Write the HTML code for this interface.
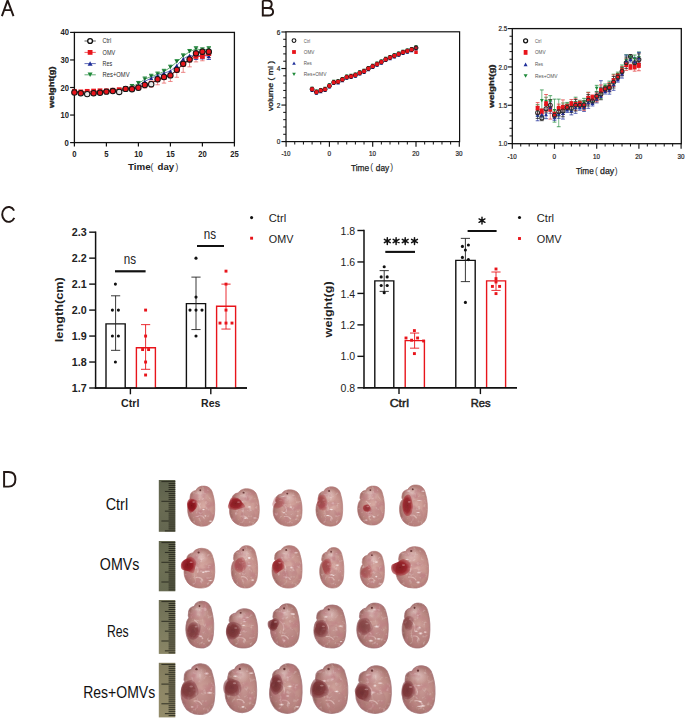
<!DOCTYPE html>
<html><head><meta charset="utf-8"><style>
html,body{margin:0;padding:0;background:#fff;}
body{width:685px;height:719px;overflow:hidden;}
svg{display:block;font-family:"Liberation Sans", sans-serif;}
</style></head><body>
<svg width="685" height="719" viewBox="0 0 685 719" font-family="&quot;Liberation Sans&quot;, sans-serif">
<rect width="685" height="719" fill="#fff"/>
<defs>
<radialGradient id="gA" cx="0.6" cy="0.52" r="0.62">
<stop offset="0" stop-color="#d8aca5"/><stop offset="0.5" stop-color="#c7958e"/><stop offset="0.82" stop-color="#af7b75"/><stop offset="1" stop-color="#94605c"/></radialGradient>
<radialGradient id="gB" cx="0.6" cy="0.52" r="0.62">
<stop offset="0" stop-color="#cfa39c"/><stop offset="0.5" stop-color="#bd8c86"/><stop offset="0.82" stop-color="#a5726d"/><stop offset="1" stop-color="#8a5855"/></radialGradient>
<radialGradient id="lvA" cx="0.5" cy="0.5" r="0.5">
<stop offset="0" stop-color="#a11e2a"/><stop offset="0.55" stop-color="#ad2e37" stop-opacity="0.9"/><stop offset="1" stop-color="#c06a6c" stop-opacity="0"/></radialGradient>
<radialGradient id="lvB" cx="0.5" cy="0.5" r="0.5">
<stop offset="0" stop-color="#6e2226"/><stop offset="0.55" stop-color="#84343a" stop-opacity="0.85"/><stop offset="1" stop-color="#a86a6c" stop-opacity="0"/></radialGradient>
<radialGradient id="hl" cx="0.5" cy="0.5" r="0.5">
<stop offset="0" stop-color="#fbeeee" stop-opacity="0.9"/><stop offset="1" stop-color="#fbeeee" stop-opacity="0"/></radialGradient>
<filter id="tex0" x="0" y="0" width="1" height="1" filterUnits="objectBoundingBox">
<feTurbulence type="fractalNoise" baseFrequency="0.3" numOctaves="2" seed="5" result="n"/>
<feColorMatrix in="n" type="matrix" values="0 0 0 0 1  0 0 0 0 0.94  0 0 0 0 0.93  3.4 0 0 0 -2.0" result="w"/>
<feComposite in="w" in2="SourceAlpha" operator="in"/>
</filter>
<filter id="dk0" x="0" y="0" width="1" height="1" filterUnits="objectBoundingBox">
<feTurbulence type="fractalNoise" baseFrequency="0.12" numOctaves="2" seed="8" result="n"/>
<feColorMatrix in="n" type="matrix" values="0 0 0 0 0.5  0 0 0 0 0.2  0 0 0 0 0.22  0 0 3.2 0 -1.45" result="w"/>
<feComposite in="w" in2="SourceAlpha" operator="in"/>
</filter>
<filter id="tex1" x="0" y="0" width="1" height="1" filterUnits="objectBoundingBox">
<feTurbulence type="fractalNoise" baseFrequency="0.3" numOctaves="2" seed="17" result="n"/>
<feColorMatrix in="n" type="matrix" values="0 0 0 0 1  0 0 0 0 0.94  0 0 0 0 0.93  3.4 0 0 0 -2.0" result="w"/>
<feComposite in="w" in2="SourceAlpha" operator="in"/>
</filter>
<filter id="dk1" x="0" y="0" width="1" height="1" filterUnits="objectBoundingBox">
<feTurbulence type="fractalNoise" baseFrequency="0.12" numOctaves="2" seed="20" result="n"/>
<feColorMatrix in="n" type="matrix" values="0 0 0 0 0.5  0 0 0 0 0.2  0 0 0 0 0.22  0 0 3.2 0 -1.45" result="w"/>
<feComposite in="w" in2="SourceAlpha" operator="in"/>
</filter>
<filter id="tex2" x="0" y="0" width="1" height="1" filterUnits="objectBoundingBox">
<feTurbulence type="fractalNoise" baseFrequency="0.3" numOctaves="2" seed="29" result="n"/>
<feColorMatrix in="n" type="matrix" values="0 0 0 0 1  0 0 0 0 0.94  0 0 0 0 0.93  3.4 0 0 0 -2.0" result="w"/>
<feComposite in="w" in2="SourceAlpha" operator="in"/>
</filter>
<filter id="dk2" x="0" y="0" width="1" height="1" filterUnits="objectBoundingBox">
<feTurbulence type="fractalNoise" baseFrequency="0.12" numOctaves="2" seed="32" result="n"/>
<feColorMatrix in="n" type="matrix" values="0 0 0 0 0.5  0 0 0 0 0.2  0 0 0 0 0.22  0 0 3.2 0 -1.45" result="w"/>
<feComposite in="w" in2="SourceAlpha" operator="in"/>
</filter>
<filter id="tex3" x="0" y="0" width="1" height="1" filterUnits="objectBoundingBox">
<feTurbulence type="fractalNoise" baseFrequency="0.3" numOctaves="2" seed="41" result="n"/>
<feColorMatrix in="n" type="matrix" values="0 0 0 0 1  0 0 0 0 0.94  0 0 0 0 0.93  3.4 0 0 0 -2.0" result="w"/>
<feComposite in="w" in2="SourceAlpha" operator="in"/>
</filter>
<filter id="dk3" x="0" y="0" width="1" height="1" filterUnits="objectBoundingBox">
<feTurbulence type="fractalNoise" baseFrequency="0.12" numOctaves="2" seed="44" result="n"/>
<feColorMatrix in="n" type="matrix" values="0 0 0 0 0.5  0 0 0 0 0.2  0 0 0 0 0.22  0 0 3.2 0 -1.45" result="w"/>
<feComposite in="w" in2="SourceAlpha" operator="in"/>
</filter>
<filter id="blur" x="-0.3" y="-0.3" width="1.6" height="1.6"><feGaussianBlur stdDeviation="0.5"/></filter>
<radialGradient id="lvAs" cx="0.45" cy="0.5" r="0.55"><stop offset="0" stop-color="#7e1018"/><stop offset="0.6" stop-color="#961c24"/><stop offset="1" stop-color="#b0444a" stop-opacity="0.55"/></radialGradient>
<radialGradient id="lvBs" cx="0.45" cy="0.5" r="0.55"><stop offset="0" stop-color="#5e1a1e"/><stop offset="0.6" stop-color="#73282c"/><stop offset="1" stop-color="#93545a" stop-opacity="0.6"/></radialGradient>
<clipPath id="cb"><path d="M4,11 C4,7.5 7,5.5 10,5 C11,2 15,0 19,0.5 C24,1 27,4 28,9 C30,15 30.5,24 29.5,31 C28.5,38 24,42 17,42 C11,42 6,39 4,35 C1.5,31 1,26 1.5,22 C2,18.5 3,16.5 4.5,15 C3.6,14 3.6,12.5 4,11 Z"/></clipPath>
<path id="bodyp" d="M4,11 C4,7.5 7,5.5 10,5 C11,2 15,0 19,0.5 C24,1 27,4 28,9 C30,15 30.5,24 29.5,31 C28.5,38 24,42 17,42 C11,42 6,39 4,35 C1.5,31 1,26 1.5,22 C2,18.5 3,16.5 4.5,15 C3.6,14 3.6,12.5 4,11 Z"/>
<linearGradient id="rg" x1="0" y1="0" x2="0" y2="1">
<stop offset="0" stop-color="#5d614d"/><stop offset="0.4" stop-color="#6b6d53"/><stop offset="0.6" stop-color="#7a7a5a"/><stop offset="1" stop-color="#5c5f4a"/></linearGradient>

</defs>
<g font-family="&quot;Liberation Sans&quot;, sans-serif" font-size="15.6" fill="#111">
<text x="116.9" y="509.8" text-anchor="middle" textLength="22.4" lengthAdjust="spacingAndGlyphs">Ctrl</text>
<text x="119.6" y="570.0" text-anchor="middle" textLength="39.6" lengthAdjust="spacingAndGlyphs">OMVs</text>
<text x="117.8" y="637.3" text-anchor="middle" textLength="21.8" lengthAdjust="spacingAndGlyphs">Res</text>
<text x="119.2" y="697.8" text-anchor="middle" textLength="72.0" lengthAdjust="spacingAndGlyphs">Res+OMVs</text>
</g>
<linearGradient id="rg0" x1="0" y1="0" x2="0" y2="1"><stop offset="0" stop-color="#5c604b"/><stop offset="0.5" stop-color="#6a6c53"/><stop offset="1" stop-color="#646650"/></linearGradient>
<rect x="158.8" y="480.0" width="16.5" height="51.80" fill="url(#rg0)"/>
<path d="M161.40,481.60H175.3M168.60,483.57H175.3M168.60,485.54H175.3M168.60,487.51H175.3M168.60,489.48H175.3M164.90,491.45H175.3M168.60,493.42H175.3M168.60,495.39H175.3M168.60,497.36H175.3M168.60,499.33H175.3M161.40,501.30H175.3M168.60,503.27H175.3M168.60,505.24H175.3M168.60,507.21H175.3M168.60,509.18H175.3M164.90,511.15H175.3M168.60,513.12H175.3M168.60,515.09H175.3M168.60,517.06H175.3M168.60,519.03H175.3M161.40,521.00H175.3M168.60,522.97H175.3M168.60,524.94H175.3M168.60,526.91H175.3M168.60,528.88H175.3M164.90,530.85H175.3" stroke="#2a2a20" stroke-width="0.95" fill="none"/>
<linearGradient id="rg1" x1="0" y1="0" x2="0" y2="1"><stop offset="0" stop-color="#62654d"/><stop offset="0.5" stop-color="#6e7055"/><stop offset="1" stop-color="#676a51"/></linearGradient>
<rect x="158.8" y="541.0" width="16.5" height="50.30" fill="url(#rg1)"/>
<path d="M161.40,542.60H175.3M168.60,544.57H175.3M168.60,546.54H175.3M168.60,548.51H175.3M168.60,550.48H175.3M164.90,552.45H175.3M168.60,554.42H175.3M168.60,556.39H175.3M168.60,558.36H175.3M168.60,560.33H175.3M161.40,562.30H175.3M168.60,564.27H175.3M168.60,566.24H175.3M168.60,568.21H175.3M168.60,570.18H175.3M164.90,572.15H175.3M168.60,574.12H175.3M168.60,576.09H175.3M168.60,578.06H175.3M168.60,580.03H175.3M161.40,582.00H175.3M168.60,583.97H175.3M168.60,585.94H175.3M168.60,587.91H175.3M168.60,589.88H175.3" stroke="#2a2a20" stroke-width="0.95" fill="none"/>
<linearGradient id="rg2" x1="0" y1="0" x2="0" y2="1"><stop offset="0" stop-color="#6e6e55"/><stop offset="0.5" stop-color="#7c7b5e"/><stop offset="1" stop-color="#8a8666"/></linearGradient>
<rect x="158.8" y="600.0" width="16.5" height="53.90" fill="url(#rg2)"/>
<path d="M161.40,601.60H175.3M168.60,603.57H175.3M168.60,605.54H175.3M168.60,607.51H175.3M168.60,609.48H175.3M164.90,611.45H175.3M168.60,613.42H175.3M168.60,615.39H175.3M168.60,617.36H175.3M168.60,619.33H175.3M161.40,621.30H175.3M168.60,623.27H175.3M168.60,625.24H175.3M168.60,627.21H175.3M168.60,629.18H175.3M164.90,631.15H175.3M168.60,633.12H175.3M168.60,635.09H175.3M168.60,637.06H175.3M168.60,639.03H175.3M161.40,641.00H175.3M168.60,642.97H175.3M168.60,644.94H175.3M168.60,646.91H175.3M168.60,648.88H175.3M164.90,650.85H175.3M168.60,652.82H175.3" stroke="#2a2a20" stroke-width="0.95" fill="none"/>
<linearGradient id="rg3" x1="0" y1="0" x2="0" y2="1"><stop offset="0" stop-color="#807a5c"/><stop offset="0.5" stop-color="#8e8766"/><stop offset="1" stop-color="#948c6a"/></linearGradient>
<rect x="158.8" y="662.8" width="16.5" height="54.60" fill="url(#rg3)"/>
<path d="M161.40,664.40H175.3M168.60,666.37H175.3M168.60,668.34H175.3M168.60,670.31H175.3M168.60,672.28H175.3M164.90,674.25H175.3M168.60,676.22H175.3M168.60,678.19H175.3M168.60,680.16H175.3M168.60,682.13H175.3M161.40,684.10H175.3M168.60,686.07H175.3M168.60,688.04H175.3M168.60,690.01H175.3M168.60,691.98H175.3M164.90,693.95H175.3M168.60,695.92H175.3M168.60,697.89H175.3M168.60,699.86H175.3M168.60,701.83H175.3M161.40,703.80H175.3M168.60,705.77H175.3M168.60,707.74H175.3M168.60,709.71H175.3M168.60,711.68H175.3M164.90,713.65H175.3M168.60,715.62H175.3" stroke="#2a2a20" stroke-width="0.95" fill="none"/>
<svg x="186.4" y="485.6" width="28.4" height="40.6" viewBox="0 0 30 42" preserveAspectRatio="none" overflow="visible"><use href="#bodyp" fill="url(#gA)"/><g clip-path="url(#cb)"><ellipse cx="14.9" cy="9" rx="9" ry="7.5" fill="url(#hl)" opacity="0.55"/><ellipse cx="19.2" cy="30.7" rx="7" ry="7.5" fill="#a86e72" opacity="0.25"/><path d="M10,16.9 Q16,20 14,26 M12,31 Q17,30 19,34" stroke="#efd4d0" stroke-width="1.1" fill="none" opacity="0.55"/><ellipse cx="18.1" cy="24.8" rx="1.8" ry="1.2" fill="url(#hl)"/><ellipse cx="20.1" cy="31.4" rx="1.6" ry="1.0" fill="url(#hl)"/><ellipse cx="11.5" cy="31.9" rx="2.5" ry="0.8" fill="url(#hl)"/><ellipse cx="25.7" cy="36.9" rx="2.5" ry="1.3" fill="url(#hl)"/><rect x="0" y="0" width="30" height="42" fill="#000" filter="url(#dk0)" opacity="0.7"/><rect x="0" y="0" width="30" height="42" fill="#000" filter="url(#tex0)" opacity="0.3"/></g><use href="#bodyp" fill="none" stroke="#b27a78" stroke-width="0.9" opacity="0.75"/><path d="M11.2,22.0 C10.6,23.6 9.5,24.7 8.3,25.7 C7.2,26.6 5.2,28.4 4.1,28.0 C2.9,27.5 2.0,24.7 1.4,23.1 C0.9,21.4 0.4,19.5 0.7,17.9 C1.0,16.3 2.2,14.3 3.3,13.6 C4.5,12.9 6.1,13.4 7.5,13.8 C8.9,14.3 11.0,14.9 11.6,16.2 C12.2,17.6 11.7,20.5 11.2,22.0Z" fill="url(#lvAs)" opacity="1.00" filter="url(#blur)"/><ellipse cx="7.7" cy="16.9" rx="1.5" ry="0.8" fill="#f6dede" opacity="0.45"/><circle cx="14.7" cy="4.8" r="1.0" fill="#5a2828" opacity="0.85"/></svg>
<svg x="228.1" y="488.3" width="31.2" height="37.9" viewBox="0 0 30 42" preserveAspectRatio="none" overflow="visible"><use href="#bodyp" fill="url(#gA)"/><g clip-path="url(#cb)"><ellipse cx="15.7" cy="9" rx="9" ry="7.5" fill="url(#hl)" opacity="0.55"/><ellipse cx="19.1" cy="29.6" rx="7" ry="7.5" fill="#a86e72" opacity="0.25"/><path d="M10,17.0 Q16,20 14,26 M12,31 Q17,30 19,34" stroke="#efd4d0" stroke-width="1.1" fill="none" opacity="0.55"/><ellipse cx="20.6" cy="20.6" rx="1.9" ry="1.6" fill="url(#hl)"/><ellipse cx="25.9" cy="32.9" rx="2.6" ry="1.1" fill="url(#hl)"/><ellipse cx="13.7" cy="15.2" rx="1.6" ry="1.4" fill="url(#hl)"/><ellipse cx="16.4" cy="33.1" rx="2.1" ry="1.6" fill="url(#hl)"/><rect x="0" y="0" width="30" height="42" fill="#000" filter="url(#dk1)" opacity="0.7"/><rect x="0" y="0" width="30" height="42" fill="#000" filter="url(#tex1)" opacity="0.3"/></g><use href="#bodyp" fill="none" stroke="#b27a78" stroke-width="0.9" opacity="0.75"/><path d="M16.3,20.5 C15.9,21.7 12.4,22.3 10.7,22.9 C9.0,23.5 7.8,24.1 6.1,24.0 C4.3,23.8 0.9,23.3 0.1,22.0 C-0.8,20.6 0.3,17.9 0.9,15.9 C1.5,13.9 2.2,11.0 3.7,10.2 C5.2,9.5 8.5,10.6 10.1,11.4 C11.7,12.3 12.3,13.8 13.4,15.3 C14.4,16.8 16.8,19.2 16.3,20.5Z" fill="url(#lvAs)" opacity="0.90" filter="url(#blur)"/><ellipse cx="10.0" cy="15.3" rx="1.5" ry="0.8" fill="#f6dede" opacity="0.41"/><circle cx="14.9" cy="4.8" r="1.0" fill="#5a2828" opacity="0.85"/></svg>
<svg x="271.8" y="489.4" width="30.3" height="36.8" viewBox="0 0 30 42" preserveAspectRatio="none" overflow="visible"><use href="#bodyp" fill="url(#gA)"/><g clip-path="url(#cb)"><ellipse cx="15.6" cy="9" rx="9" ry="7.5" fill="url(#hl)" opacity="0.55"/><ellipse cx="18.1" cy="27.3" rx="7" ry="7.5" fill="#a86e72" opacity="0.25"/><path d="M10,16.7 Q16,20 14,26 M12,31 Q17,30 19,34" stroke="#efd4d0" stroke-width="1.1" fill="none" opacity="0.55"/><ellipse cx="25.4" cy="30.3" rx="1.7" ry="1.0" fill="url(#hl)"/><ellipse cx="11.6" cy="7.9" rx="2.7" ry="0.9" fill="url(#hl)"/><ellipse cx="18.9" cy="20.3" rx="1.8" ry="1.4" fill="url(#hl)"/><ellipse cx="12.1" cy="26.6" rx="1.7" ry="1.1" fill="url(#hl)"/><rect x="0" y="0" width="30" height="42" fill="#000" filter="url(#dk2)" opacity="0.7"/><rect x="0" y="0" width="30" height="42" fill="#000" filter="url(#tex2)" opacity="0.3"/></g><use href="#bodyp" fill="none" stroke="#b27a78" stroke-width="0.9" opacity="0.75"/><path d="M12.3,16.6 C11.9,17.9 11.0,18.9 9.7,19.9 C8.4,20.8 6.2,22.4 4.7,22.2 C3.1,21.9 1.0,19.8 0.5,18.3 C-0.1,16.8 0.9,15.0 1.4,13.3 C1.9,11.7 2.2,9.2 3.5,8.6 C4.7,8.0 7.2,9.3 8.7,9.9 C10.1,10.5 11.8,11.1 12.4,12.3 C13.0,13.4 12.8,15.3 12.3,16.6Z" fill="url(#lvAs)" opacity="0.35" filter="url(#blur)"/><ellipse cx="8.7" cy="12.7" rx="1.5" ry="0.8" fill="#f6dede" opacity="0.16"/><circle cx="15.3" cy="4.8" r="1.0" fill="#5a2828" opacity="0.85"/></svg>
<svg x="314.7" y="486.4" width="28.0" height="39.8" viewBox="0 0 30 42" preserveAspectRatio="none" overflow="visible"><use href="#bodyp" fill="url(#gA)"/><g clip-path="url(#cb)"><ellipse cx="15.3" cy="9" rx="9" ry="7.5" fill="url(#hl)" opacity="0.55"/><ellipse cx="17.4" cy="31.0" rx="7" ry="7.5" fill="#a86e72" opacity="0.25"/><path d="M10,16.4 Q16,20 14,26 M12,31 Q17,30 19,34" stroke="#efd4d0" stroke-width="1.1" fill="none" opacity="0.55"/><ellipse cx="14.1" cy="30.7" rx="2.0" ry="1.0" fill="url(#hl)"/><ellipse cx="11.2" cy="8.9" rx="2.4" ry="1.0" fill="url(#hl)"/><ellipse cx="19.6" cy="17.9" rx="2.2" ry="1.6" fill="url(#hl)"/><ellipse cx="17.7" cy="24.4" rx="2.8" ry="0.9" fill="url(#hl)"/><rect x="0" y="0" width="30" height="42" fill="#000" filter="url(#dk3)" opacity="0.7"/><rect x="0" y="0" width="30" height="42" fill="#000" filter="url(#tex3)" opacity="0.3"/></g><use href="#bodyp" fill="none" stroke="#b27a78" stroke-width="0.9" opacity="0.75"/><path d="M13.2,18.8 C13.0,20.5 12.8,23.5 11.6,24.6 C10.3,25.6 7.3,25.6 5.8,24.9 C4.4,24.1 3.5,21.6 3.0,20.0 C2.4,18.4 2.4,16.8 2.7,15.2 C3.0,13.5 3.4,11.0 4.7,9.9 C5.9,8.9 8.9,8.0 10.3,8.7 C11.7,9.4 12.4,12.4 12.9,14.1 C13.4,15.8 13.4,17.0 13.2,18.8Z" fill="url(#lvAs)" opacity="0.50" filter="url(#blur)"/><ellipse cx="9.7" cy="14.3" rx="1.5" ry="0.8" fill="#f6dede" opacity="0.23"/><circle cx="15.4" cy="4.8" r="1.0" fill="#5a2828" opacity="0.85"/></svg>
<svg x="356.4" y="485.6" width="28.1" height="39.5" viewBox="0 0 30 42" preserveAspectRatio="none" overflow="visible"><use href="#bodyp" fill="url(#gA)"/><g clip-path="url(#cb)"><ellipse cx="15.8" cy="9" rx="9" ry="7.5" fill="url(#hl)" opacity="0.55"/><ellipse cx="19.4" cy="28.7" rx="7" ry="7.5" fill="#a86e72" opacity="0.25"/><path d="M10,16.2 Q16,20 14,26 M12,31 Q17,30 19,34" stroke="#efd4d0" stroke-width="1.1" fill="none" opacity="0.55"/><ellipse cx="10.6" cy="36.8" rx="1.9" ry="1.4" fill="url(#hl)"/><ellipse cx="14.1" cy="32.4" rx="2.4" ry="1.0" fill="url(#hl)"/><ellipse cx="12.8" cy="29.1" rx="1.6" ry="1.0" fill="url(#hl)"/><ellipse cx="18.9" cy="33.3" rx="2.4" ry="1.0" fill="url(#hl)"/><rect x="0" y="0" width="30" height="42" fill="#000" filter="url(#dk0)" opacity="0.7"/><rect x="0" y="0" width="30" height="42" fill="#000" filter="url(#tex0)" opacity="0.3"/></g><use href="#bodyp" fill="none" stroke="#b27a78" stroke-width="0.9" opacity="0.75"/><path d="M15.9,25.8 C15.6,26.8 13.7,27.6 12.7,27.9 C11.8,28.3 10.9,28.1 10.0,27.8 C9.2,27.5 8.1,27.0 7.6,26.1 C7.1,25.3 6.7,23.5 7.0,22.5 C7.3,21.6 8.6,20.8 9.4,20.4 C10.2,19.9 11.2,19.6 12.1,19.8 C12.9,20.0 13.9,20.7 14.6,21.7 C15.2,22.7 16.2,24.8 15.9,25.8Z" fill="url(#lvAs)" opacity="0.75" filter="url(#blur)"/><ellipse cx="12.2" cy="22.1" rx="1.5" ry="0.8" fill="#f6dede" opacity="0.34"/><circle cx="14.9" cy="4.8" r="1.0" fill="#5a2828" opacity="0.85"/></svg>
<svg x="398.2" y="484.5" width="29.2" height="41.7" viewBox="0 0 30 42" preserveAspectRatio="none" overflow="visible"><use href="#bodyp" fill="url(#gA)"/><g clip-path="url(#cb)"><ellipse cx="14.3" cy="9" rx="9" ry="7.5" fill="url(#hl)" opacity="0.55"/><ellipse cx="18.4" cy="30.6" rx="7" ry="7.5" fill="#a86e72" opacity="0.25"/><path d="M10,18.0 Q16,20 14,26 M12,31 Q17,30 19,34" stroke="#efd4d0" stroke-width="1.1" fill="none" opacity="0.55"/><ellipse cx="20.5" cy="28.1" rx="2.4" ry="0.9" fill="url(#hl)"/><ellipse cx="10.6" cy="6.6" rx="2.9" ry="1.4" fill="url(#hl)"/><ellipse cx="25.4" cy="6.7" rx="2.5" ry="1.2" fill="url(#hl)"/><ellipse cx="21.7" cy="16.2" rx="3.0" ry="0.9" fill="url(#hl)"/><rect x="0" y="0" width="30" height="42" fill="#000" filter="url(#dk1)" opacity="0.7"/><rect x="0" y="0" width="30" height="42" fill="#000" filter="url(#tex1)" opacity="0.3"/></g><use href="#bodyp" fill="none" stroke="#b27a78" stroke-width="0.9" opacity="0.75"/><path d="M15.2,23.8 C15.0,26.0 14.0,28.8 12.8,30.1 C11.6,31.4 9.5,32.2 8.1,31.5 C6.8,30.8 5.3,28.0 4.7,25.8 C4.1,23.5 4.0,20.4 4.4,18.0 C4.8,15.7 5.9,13.0 7.2,11.7 C8.4,10.5 10.7,9.6 11.9,10.5 C13.1,11.3 13.9,14.8 14.4,17.0 C15.0,19.2 15.5,21.6 15.2,23.8Z" fill="url(#lvAs)" opacity="0.85" filter="url(#blur)"/><ellipse cx="11.4" cy="17.5" rx="1.5" ry="0.8" fill="#f6dede" opacity="0.38"/><circle cx="15.0" cy="4.8" r="1.0" fill="#5a2828" opacity="0.85"/></svg>
<svg x="182.6" y="547.9" width="32.2" height="40.2" viewBox="0 0 30 42" preserveAspectRatio="none" overflow="visible"><use href="#bodyp" fill="url(#gA)"/><g clip-path="url(#cb)"><ellipse cx="15.8" cy="9" rx="9" ry="7.5" fill="url(#hl)" opacity="0.55"/><ellipse cx="20.5" cy="28.7" rx="7" ry="7.5" fill="#a86e72" opacity="0.25"/><path d="M10,17.6 Q16,20 14,26 M12,31 Q17,30 19,34" stroke="#efd4d0" stroke-width="1.1" fill="none" opacity="0.55"/><ellipse cx="23.8" cy="24.3" rx="2.4" ry="1.1" fill="url(#hl)"/><ellipse cx="19.3" cy="25.5" rx="1.6" ry="1.3" fill="url(#hl)"/><ellipse cx="25.9" cy="34.2" rx="2.6" ry="1.1" fill="url(#hl)"/><ellipse cx="21.8" cy="24.6" rx="2.2" ry="1.5" fill="url(#hl)"/><rect x="0" y="0" width="30" height="42" fill="#000" filter="url(#dk2)" opacity="0.7"/><rect x="0" y="0" width="30" height="42" fill="#000" filter="url(#tex3)" opacity="0.3"/></g><use href="#bodyp" fill="none" stroke="#b27a78" stroke-width="0.9" opacity="0.75"/><path d="M11.8,20.0 C11.4,22.0 11.2,25.4 9.9,26.1 C8.7,26.8 6.1,24.8 4.3,24.2 C2.4,23.5 -0.1,23.4 -1.0,22.0 C-1.9,20.6 -1.8,17.3 -1.1,15.6 C-0.5,13.9 1.3,12.7 2.9,11.6 C4.5,10.6 6.8,9.0 8.4,9.4 C10.0,9.8 12.1,12.4 12.6,14.2 C13.2,15.9 12.3,18.0 11.8,20.0Z" fill="url(#lvAs)" opacity="0.95" filter="url(#blur)"/><ellipse cx="8.0" cy="14.9" rx="1.5" ry="0.8" fill="#f6dede" opacity="0.43"/><circle cx="14.9" cy="4.8" r="1.0" fill="#5a2828" opacity="0.85"/></svg>
<svg x="230.0" y="545.2" width="27.7" height="42.9" viewBox="0 0 30 42" preserveAspectRatio="none" overflow="visible"><use href="#bodyp" fill="url(#gA)"/><g clip-path="url(#cb)"><ellipse cx="15.8" cy="9" rx="9" ry="7.5" fill="url(#hl)" opacity="0.55"/><ellipse cx="18.0" cy="27.0" rx="7" ry="7.5" fill="#a86e72" opacity="0.25"/><path d="M10,16.6 Q16,20 14,26 M12,31 Q17,30 19,34" stroke="#efd4d0" stroke-width="1.1" fill="none" opacity="0.55"/><ellipse cx="20.9" cy="12.5" rx="1.8" ry="1.5" fill="url(#hl)"/><ellipse cx="20.6" cy="20.1" rx="2.8" ry="1.1" fill="url(#hl)"/><ellipse cx="20.7" cy="12.4" rx="2.1" ry="1.4" fill="url(#hl)"/><ellipse cx="24.6" cy="34.2" rx="2.1" ry="1.3" fill="url(#hl)"/><rect x="0" y="0" width="30" height="42" fill="#000" filter="url(#dk3)" opacity="0.7"/><rect x="0" y="0" width="30" height="42" fill="#000" filter="url(#tex0)" opacity="0.3"/></g><use href="#bodyp" fill="none" stroke="#b27a78" stroke-width="0.9" opacity="0.75"/><path d="M17.6,21.9 C17.2,23.3 15.8,24.5 14.5,25.3 C13.2,26.1 11.6,27.1 10.1,26.9 C8.6,26.6 6.3,25.4 5.4,23.9 C4.5,22.3 4.3,19.3 4.8,17.5 C5.4,15.7 7.1,14.0 8.7,13.0 C10.3,12.0 12.9,11.0 14.3,11.7 C15.7,12.4 16.6,15.3 17.1,17.0 C17.7,18.7 18.1,20.6 17.6,21.9Z" fill="url(#lvAs)" opacity="0.45" filter="url(#blur)"/><ellipse cx="13.7" cy="17.3" rx="1.5" ry="0.8" fill="#f6dede" opacity="0.20"/><circle cx="14.3" cy="4.8" r="1.0" fill="#5a2828" opacity="0.85"/></svg>
<svg x="270.6" y="545.2" width="31.5" height="42.9" viewBox="0 0 30 42" preserveAspectRatio="none" overflow="visible"><use href="#bodyp" fill="url(#gA)"/><g clip-path="url(#cb)"><ellipse cx="14.9" cy="9" rx="9" ry="7.5" fill="url(#hl)" opacity="0.55"/><ellipse cx="18.1" cy="27.9" rx="7" ry="7.5" fill="#a86e72" opacity="0.25"/><path d="M10,16.8 Q16,20 14,26 M12,31 Q17,30 19,34" stroke="#efd4d0" stroke-width="1.1" fill="none" opacity="0.55"/><ellipse cx="20.0" cy="21.8" rx="2.0" ry="1.5" fill="url(#hl)"/><ellipse cx="25.7" cy="20.5" rx="1.6" ry="0.8" fill="url(#hl)"/><ellipse cx="24.0" cy="7.3" rx="2.6" ry="1.3" fill="url(#hl)"/><ellipse cx="14.9" cy="31.3" rx="1.5" ry="0.9" fill="url(#hl)"/><rect x="0" y="0" width="30" height="42" fill="#000" filter="url(#dk0)" opacity="0.7"/><rect x="0" y="0" width="30" height="42" fill="#000" filter="url(#tex1)" opacity="0.3"/></g><use href="#bodyp" fill="none" stroke="#b27a78" stroke-width="0.9" opacity="0.75"/><path d="M13.0,22.1 C12.5,23.5 10.7,24.0 9.4,25.0 C8.0,25.9 6.0,28.3 4.8,27.9 C3.6,27.6 2.5,24.6 2.0,23.0 C1.5,21.3 1.4,19.6 1.9,18.2 C2.3,16.9 3.4,15.9 4.6,15.0 C5.8,14.0 7.7,12.4 9.0,12.7 C10.3,13.0 11.9,15.2 12.6,16.7 C13.2,18.3 13.6,20.7 13.0,22.1Z" fill="url(#lvAs)" opacity="0.80" filter="url(#blur)"/><ellipse cx="8.7" cy="17.3" rx="1.5" ry="0.8" fill="#f6dede" opacity="0.36"/><circle cx="14.9" cy="4.8" r="1.0" fill="#5a2828" opacity="0.85"/></svg>
<svg x="318.5" y="547.1" width="25.4" height="41.0" viewBox="0 0 30 42" preserveAspectRatio="none" overflow="visible"><use href="#bodyp" fill="url(#gA)"/><g clip-path="url(#cb)"><ellipse cx="15.3" cy="9" rx="9" ry="7.5" fill="url(#hl)" opacity="0.55"/><ellipse cx="20.2" cy="30.8" rx="7" ry="7.5" fill="#a86e72" opacity="0.25"/><path d="M10,17.4 Q16,20 14,26 M12,31 Q17,30 19,34" stroke="#efd4d0" stroke-width="1.1" fill="none" opacity="0.55"/><ellipse cx="13.2" cy="21.2" rx="1.8" ry="0.8" fill="url(#hl)"/><ellipse cx="17.6" cy="28.9" rx="1.8" ry="1.0" fill="url(#hl)"/><ellipse cx="15.5" cy="28.3" rx="2.3" ry="1.3" fill="url(#hl)"/><ellipse cx="22.1" cy="18.6" rx="2.7" ry="1.5" fill="url(#hl)"/><rect x="0" y="0" width="30" height="42" fill="#000" filter="url(#dk1)" opacity="0.7"/><rect x="0" y="0" width="30" height="42" fill="#000" filter="url(#tex2)" opacity="0.3"/></g><use href="#bodyp" fill="none" stroke="#b27a78" stroke-width="0.9" opacity="0.75"/><path d="M15.0,21.7 C14.7,23.5 14.8,26.7 13.6,27.6 C12.4,28.6 9.3,28.4 7.9,27.6 C6.5,26.8 5.9,24.4 5.3,22.8 C4.6,21.2 3.7,19.5 4.0,17.9 C4.2,16.3 5.4,14.3 6.8,13.3 C8.2,12.2 10.8,11.2 12.3,11.8 C13.7,12.4 14.9,15.2 15.4,16.8 C15.8,18.5 15.3,19.9 15.0,21.7Z" fill="url(#lvAs)" opacity="0.55" filter="url(#blur)"/><ellipse cx="11.7" cy="17.3" rx="1.5" ry="0.8" fill="#f6dede" opacity="0.25"/><circle cx="14.9" cy="4.8" r="1.0" fill="#5a2828" opacity="0.85"/></svg>
<svg x="359.0" y="550.9" width="25.5" height="37.2" viewBox="0 0 30 42" preserveAspectRatio="none" overflow="visible"><use href="#bodyp" fill="url(#gA)"/><g clip-path="url(#cb)"><ellipse cx="15.8" cy="9" rx="9" ry="7.5" fill="url(#hl)" opacity="0.55"/><ellipse cx="20.2" cy="30.8" rx="7" ry="7.5" fill="#a86e72" opacity="0.25"/><path d="M10,16.9 Q16,20 14,26 M12,31 Q17,30 19,34" stroke="#efd4d0" stroke-width="1.1" fill="none" opacity="0.55"/><ellipse cx="20.4" cy="12.6" rx="2.6" ry="1.5" fill="url(#hl)"/><ellipse cx="20.3" cy="29.0" rx="1.8" ry="1.5" fill="url(#hl)"/><ellipse cx="25.7" cy="37.3" rx="2.3" ry="1.4" fill="url(#hl)"/><ellipse cx="15.1" cy="35.1" rx="2.8" ry="1.1" fill="url(#hl)"/><rect x="0" y="0" width="30" height="42" fill="#000" filter="url(#dk2)" opacity="0.7"/><rect x="0" y="0" width="30" height="42" fill="#000" filter="url(#tex3)" opacity="0.3"/></g><use href="#bodyp" fill="none" stroke="#b27a78" stroke-width="0.9" opacity="0.75"/><path d="M15.8,25.7 C15.5,27.2 14.8,29.3 13.4,30.2 C12.1,31.1 9.5,31.4 7.7,31.0 C5.9,30.6 3.3,29.3 2.5,27.8 C1.7,26.2 2.1,23.3 2.9,21.9 C3.6,20.4 5.6,20.0 7.2,19.0 C8.9,18.1 11.2,15.8 12.5,16.1 C13.9,16.5 14.8,19.7 15.3,21.3 C15.9,22.9 16.1,24.2 15.8,25.7Z" fill="url(#lvAs)" opacity="0.40" filter="url(#blur)"/><ellipse cx="12.0" cy="21.3" rx="1.5" ry="0.8" fill="#f6dede" opacity="0.18"/><circle cx="15.2" cy="4.8" r="1.0" fill="#5a2828" opacity="0.85"/></svg>
<svg x="394.4" y="546.3" width="34.1" height="41.8" viewBox="0 0 30 42" preserveAspectRatio="none" overflow="visible"><use href="#bodyp" fill="url(#gA)"/><g clip-path="url(#cb)"><ellipse cx="14.3" cy="9" rx="9" ry="7.5" fill="url(#hl)" opacity="0.55"/><ellipse cx="18.3" cy="30.2" rx="7" ry="7.5" fill="#a86e72" opacity="0.25"/><path d="M10,16.3 Q16,20 14,26 M12,31 Q17,30 19,34" stroke="#efd4d0" stroke-width="1.1" fill="none" opacity="0.55"/><ellipse cx="12.4" cy="22.5" rx="2.6" ry="1.5" fill="url(#hl)"/><ellipse cx="21.0" cy="36.3" rx="2.2" ry="1.6" fill="url(#hl)"/><ellipse cx="11.4" cy="13.1" rx="2.3" ry="1.0" fill="url(#hl)"/><ellipse cx="21.7" cy="26.4" rx="2.3" ry="1.5" fill="url(#hl)"/><rect x="0" y="0" width="30" height="42" fill="#000" filter="url(#dk3)" opacity="0.7"/><rect x="0" y="0" width="30" height="42" fill="#000" filter="url(#tex0)" opacity="0.3"/></g><use href="#bodyp" fill="none" stroke="#b27a78" stroke-width="0.9" opacity="0.75"/><path d="M13.4,24.5 C12.6,26.4 10.8,27.8 9.2,28.6 C7.6,29.5 5.7,29.8 3.9,29.4 C2.1,29.1 -0.6,28.2 -1.7,26.4 C-2.8,24.7 -3.3,20.9 -2.5,19.1 C-1.7,17.3 1.1,16.7 3.0,15.7 C4.8,14.7 6.7,12.6 8.6,12.9 C10.4,13.1 13.3,15.4 14.1,17.3 C14.9,19.3 14.2,22.6 13.4,24.5Z" fill="url(#lvAs)" opacity="0.90" filter="url(#blur)"/><ellipse cx="8.0" cy="18.9" rx="1.5" ry="0.8" fill="#f6dede" opacity="0.41"/><circle cx="14.8" cy="4.8" r="1.0" fill="#5a2828" opacity="0.85"/></svg>
<svg x="184.5" y="600.7" width="29.2" height="47.4" viewBox="0 0 30 42" preserveAspectRatio="none" overflow="visible"><use href="#bodyp" fill="url(#gB)"/><g clip-path="url(#cb)"><ellipse cx="15.1" cy="9" rx="9" ry="7.5" fill="url(#hl)" opacity="0.55"/><ellipse cx="17.8" cy="29.1" rx="7" ry="7.5" fill="#a86e72" opacity="0.25"/><path d="M10,17.0 Q16,20 14,26 M12,31 Q17,30 19,34" stroke="#efd4d0" stroke-width="1.1" fill="none" opacity="0.55"/><ellipse cx="19.7" cy="6.9" rx="3.0" ry="1.2" fill="url(#hl)"/><ellipse cx="16.4" cy="31.6" rx="2.3" ry="1.2" fill="url(#hl)"/><ellipse cx="21.1" cy="8.1" rx="2.3" ry="1.1" fill="url(#hl)"/><ellipse cx="25.3" cy="35.5" rx="1.9" ry="1.2" fill="url(#hl)"/><rect x="0" y="0" width="30" height="42" fill="#000" filter="url(#dk0)" opacity="0.7"/><rect x="0" y="0" width="30" height="42" fill="#000" filter="url(#tex2)" opacity="0.3"/></g><use href="#bodyp" fill="none" stroke="#a27176" stroke-width="0.9" opacity="0.75"/><path d="M15.6,28.0 C15.1,29.8 14.6,31.7 13.2,32.9 C11.9,34.0 9.4,35.2 7.6,34.7 C5.8,34.3 3.3,32.3 2.6,30.4 C1.8,28.6 2.6,25.5 3.3,23.7 C4.0,21.8 5.5,20.2 7.0,19.5 C8.4,18.8 10.2,19.0 11.8,19.4 C13.4,19.9 16.0,20.6 16.6,22.1 C17.3,23.5 16.2,26.2 15.6,28.0Z" fill="url(#lvBs)" opacity="0.68" filter="url(#blur)"/><ellipse cx="11.9" cy="23.0" rx="1.5" ry="0.8" fill="#f6dede" opacity="0.31"/><circle cx="15.4" cy="4.8" r="1.0" fill="#5a2828" opacity="0.85"/></svg>
<svg x="225.1" y="608.3" width="32.6" height="39.8" viewBox="0 0 30 42" preserveAspectRatio="none" overflow="visible"><use href="#bodyp" fill="url(#gB)"/><g clip-path="url(#cb)"><ellipse cx="14.3" cy="9" rx="9" ry="7.5" fill="url(#hl)" opacity="0.55"/><ellipse cx="20.1" cy="27.1" rx="7" ry="7.5" fill="#a86e72" opacity="0.25"/><path d="M10,16.4 Q16,20 14,26 M12,31 Q17,30 19,34" stroke="#efd4d0" stroke-width="1.1" fill="none" opacity="0.55"/><ellipse cx="13.6" cy="28.0" rx="2.0" ry="1.1" fill="url(#hl)"/><ellipse cx="19.9" cy="9.4" rx="2.6" ry="0.9" fill="url(#hl)"/><ellipse cx="18.2" cy="14.0" rx="1.8" ry="1.2" fill="url(#hl)"/><ellipse cx="17.0" cy="18.0" rx="2.1" ry="1.2" fill="url(#hl)"/><rect x="0" y="0" width="30" height="42" fill="#000" filter="url(#dk1)" opacity="0.7"/><rect x="0" y="0" width="30" height="42" fill="#000" filter="url(#tex3)" opacity="0.3"/></g><use href="#bodyp" fill="none" stroke="#a27176" stroke-width="0.9" opacity="0.75"/><path d="M13.7,26.2 C13.0,28.1 12.2,29.7 10.9,30.8 C9.5,31.9 7.4,33.4 5.8,33.0 C4.2,32.6 2.1,30.4 1.3,28.4 C0.5,26.5 0.6,23.6 1.1,21.3 C1.6,19.1 2.6,15.9 4.1,14.9 C5.7,13.8 8.3,14.4 10.2,15.1 C12.1,15.8 14.7,17.3 15.3,19.2 C15.9,21.0 14.5,24.3 13.7,26.2Z" fill="url(#lvBs)" opacity="0.77" filter="url(#blur)"/><ellipse cx="9.9" cy="20.7" rx="1.5" ry="0.8" fill="#f6dede" opacity="0.34"/><circle cx="14.3" cy="4.8" r="1.0" fill="#5a2828" opacity="0.85"/></svg>
<svg x="269.1" y="603.3" width="30.4" height="44.1" viewBox="0 0 30 42" preserveAspectRatio="none" overflow="visible"><use href="#bodyp" fill="url(#gB)"/><g clip-path="url(#cb)"><ellipse cx="15.5" cy="9" rx="9" ry="7.5" fill="url(#hl)" opacity="0.55"/><ellipse cx="20.2" cy="30.6" rx="7" ry="7.5" fill="#a86e72" opacity="0.25"/><path d="M10,16.6 Q16,20 14,26 M12,31 Q17,30 19,34" stroke="#efd4d0" stroke-width="1.1" fill="none" opacity="0.55"/><ellipse cx="15.0" cy="35.5" rx="1.8" ry="1.6" fill="url(#hl)"/><ellipse cx="24.2" cy="10.3" rx="1.9" ry="1.4" fill="url(#hl)"/><ellipse cx="14.2" cy="9.1" rx="2.7" ry="1.1" fill="url(#hl)"/><ellipse cx="22.6" cy="10.0" rx="2.1" ry="1.3" fill="url(#hl)"/><rect x="0" y="0" width="30" height="42" fill="#000" filter="url(#dk2)" opacity="0.7"/><rect x="0" y="0" width="30" height="42" fill="#000" filter="url(#tex0)" opacity="0.3"/></g><use href="#bodyp" fill="none" stroke="#a27176" stroke-width="0.9" opacity="0.75"/><path d="M9.0,21.4 C8.4,22.8 8.1,23.9 7.1,24.7 C6.2,25.6 4.6,26.7 3.3,26.4 C2.0,26.2 0.1,24.9 -0.6,23.4 C-1.4,22.0 -1.8,19.1 -1.2,17.8 C-0.6,16.4 1.7,16.1 3.0,15.5 C4.2,14.9 5.4,13.8 6.6,14.0 C7.8,14.3 9.9,15.5 10.3,16.8 C10.7,18.0 9.5,20.1 9.0,21.4Z" fill="url(#lvBs)" opacity="0.81" filter="url(#blur)"/><ellipse cx="6.4" cy="17.7" rx="1.5" ry="0.8" fill="#f6dede" opacity="0.36"/><circle cx="14.8" cy="4.8" r="1.0" fill="#5a2828" opacity="0.85"/></svg>
<svg x="312.4" y="604.5" width="33.4" height="43.6" viewBox="0 0 30 42" preserveAspectRatio="none" overflow="visible"><use href="#bodyp" fill="url(#gB)"/><g clip-path="url(#cb)"><ellipse cx="15.4" cy="9" rx="9" ry="7.5" fill="url(#hl)" opacity="0.55"/><ellipse cx="17.8" cy="27.3" rx="7" ry="7.5" fill="#a86e72" opacity="0.25"/><path d="M10,16.2 Q16,20 14,26 M12,31 Q17,30 19,34" stroke="#efd4d0" stroke-width="1.1" fill="none" opacity="0.55"/><ellipse cx="10.6" cy="23.7" rx="2.3" ry="1.3" fill="url(#hl)"/><ellipse cx="12.3" cy="11.9" rx="1.8" ry="1.5" fill="url(#hl)"/><ellipse cx="25.8" cy="35.7" rx="1.6" ry="0.8" fill="url(#hl)"/><ellipse cx="25.2" cy="20.8" rx="2.6" ry="1.1" fill="url(#hl)"/><rect x="0" y="0" width="30" height="42" fill="#000" filter="url(#dk3)" opacity="0.7"/><rect x="0" y="0" width="30" height="42" fill="#000" filter="url(#tex1)" opacity="0.3"/></g><use href="#bodyp" fill="none" stroke="#a27176" stroke-width="0.9" opacity="0.75"/><path d="M14.7,26.3 C14.3,28.0 12.8,30.3 11.3,31.1 C9.9,32.0 7.6,31.9 6.0,31.4 C4.3,30.9 2.0,29.4 1.4,27.9 C0.9,26.4 2.2,24.1 2.7,22.2 C3.2,20.2 3.1,17.4 4.4,16.3 C5.7,15.1 8.9,14.4 10.4,15.2 C11.9,15.9 12.7,19.0 13.4,20.8 C14.1,22.7 15.0,24.6 14.7,26.3Z" fill="url(#lvBs)" opacity="0.72" filter="url(#blur)"/><ellipse cx="9.9" cy="21.0" rx="1.5" ry="0.8" fill="#f6dede" opacity="0.33"/><circle cx="14.7" cy="4.8" r="1.0" fill="#5a2828" opacity="0.85"/></svg>
<svg x="355.3" y="602.6" width="33.0" height="45.5" viewBox="0 0 30 42" preserveAspectRatio="none" overflow="visible"><use href="#bodyp" fill="url(#gB)"/><g clip-path="url(#cb)"><ellipse cx="15.5" cy="9" rx="9" ry="7.5" fill="url(#hl)" opacity="0.55"/><ellipse cx="18.6" cy="27.8" rx="7" ry="7.5" fill="#a86e72" opacity="0.25"/><path d="M10,16.3 Q16,20 14,26 M12,31 Q17,30 19,34" stroke="#efd4d0" stroke-width="1.1" fill="none" opacity="0.55"/><ellipse cx="18.2" cy="6.5" rx="2.8" ry="1.4" fill="url(#hl)"/><ellipse cx="21.3" cy="33.5" rx="2.4" ry="1.1" fill="url(#hl)"/><ellipse cx="19.6" cy="22.1" rx="3.0" ry="1.4" fill="url(#hl)"/><ellipse cx="14.1" cy="35.2" rx="2.6" ry="1.4" fill="url(#hl)"/><rect x="0" y="0" width="30" height="42" fill="#000" filter="url(#dk0)" opacity="0.7"/><rect x="0" y="0" width="30" height="42" fill="#000" filter="url(#tex2)" opacity="0.3"/></g><use href="#bodyp" fill="none" stroke="#a27176" stroke-width="0.9" opacity="0.75"/><path d="M15.8,24.4 C15.4,25.9 13.3,27.1 11.8,28.0 C10.3,28.9 8.4,30.4 6.8,30.0 C5.3,29.7 3.3,27.6 2.5,25.9 C1.8,24.2 2.0,21.5 2.5,19.7 C3.1,17.9 4.3,15.8 5.7,14.9 C7.2,14.1 9.6,13.7 11.1,14.4 C12.5,15.0 13.5,17.2 14.3,18.8 C15.1,20.5 16.2,22.9 15.8,24.4Z" fill="url(#lvBs)" opacity="0.59" filter="url(#blur)"/><ellipse cx="10.7" cy="19.3" rx="1.5" ry="0.8" fill="#f6dede" opacity="0.27"/><circle cx="15.1" cy="4.8" r="1.0" fill="#5a2828" opacity="0.85"/></svg>
<svg x="400.8" y="602.6" width="29.2" height="45.5" viewBox="0 0 30 42" preserveAspectRatio="none" overflow="visible"><use href="#bodyp" fill="url(#gB)"/><g clip-path="url(#cb)"><ellipse cx="14.1" cy="9" rx="9" ry="7.5" fill="url(#hl)" opacity="0.55"/><ellipse cx="18.4" cy="28.9" rx="7" ry="7.5" fill="#a86e72" opacity="0.25"/><path d="M10,16.0 Q16,20 14,26 M12,31 Q17,30 19,34" stroke="#efd4d0" stroke-width="1.1" fill="none" opacity="0.55"/><ellipse cx="15.7" cy="26.4" rx="2.4" ry="1.0" fill="url(#hl)"/><ellipse cx="25.1" cy="27.3" rx="2.0" ry="1.3" fill="url(#hl)"/><ellipse cx="19.1" cy="23.1" rx="2.1" ry="1.6" fill="url(#hl)"/><ellipse cx="20.3" cy="28.4" rx="2.6" ry="1.6" fill="url(#hl)"/><rect x="0" y="0" width="30" height="42" fill="#000" filter="url(#dk1)" opacity="0.7"/><rect x="0" y="0" width="30" height="42" fill="#000" filter="url(#tex3)" opacity="0.3"/></g><use href="#bodyp" fill="none" stroke="#a27176" stroke-width="0.9" opacity="0.75"/><path d="M12.6,19.6 C12.3,21.3 12.2,23.6 11.1,24.6 C9.9,25.6 7.3,26.1 6.0,25.5 C4.6,24.9 3.7,22.5 3.1,20.9 C2.5,19.4 1.9,17.3 2.3,16.0 C2.8,14.7 4.5,13.7 5.7,13.0 C6.9,12.4 8.3,11.9 9.6,12.2 C10.8,12.5 12.7,13.6 13.2,14.9 C13.7,16.1 13.0,18.0 12.6,19.6Z" fill="url(#lvBs)" opacity="0.51" filter="url(#blur)"/><ellipse cx="9.7" cy="15.3" rx="1.5" ry="0.8" fill="#f6dede" opacity="0.23"/><circle cx="14.1" cy="4.8" r="1.0" fill="#5a2828" opacity="0.85"/></svg>
<svg x="179.6" y="663.3" width="35.2" height="51.2" viewBox="0 0 30 42" preserveAspectRatio="none" overflow="visible"><use href="#bodyp" fill="url(#gB)"/><g clip-path="url(#cb)"><ellipse cx="14.5" cy="9" rx="9" ry="7.5" fill="url(#hl)" opacity="0.55"/><ellipse cx="20.6" cy="29.2" rx="7" ry="7.5" fill="#a86e72" opacity="0.25"/><path d="M10,17.0 Q16,20 14,26 M12,31 Q17,30 19,34" stroke="#efd4d0" stroke-width="1.1" fill="none" opacity="0.55"/><ellipse cx="25.5" cy="24.2" rx="3.0" ry="1.3" fill="url(#hl)"/><ellipse cx="23.0" cy="8.4" rx="2.4" ry="1.4" fill="url(#hl)"/><ellipse cx="10.7" cy="35.8" rx="1.7" ry="1.2" fill="url(#hl)"/><ellipse cx="12.7" cy="21.9" rx="2.4" ry="0.8" fill="url(#hl)"/><rect x="0" y="0" width="30" height="42" fill="#000" filter="url(#dk2)" opacity="0.7"/><rect x="0" y="0" width="30" height="42" fill="#000" filter="url(#tex1)" opacity="0.3"/></g><use href="#bodyp" fill="none" stroke="#a27176" stroke-width="0.9" opacity="0.75"/><path d="M16.2,24.8 C15.6,26.6 12.9,28.0 11.2,28.8 C9.5,29.6 7.5,30.2 5.9,29.7 C4.2,29.2 2.1,27.6 1.4,25.9 C0.7,24.2 1.0,21.5 1.6,19.8 C2.2,18.1 3.6,16.6 5.0,15.6 C6.4,14.6 8.7,13.4 10.2,13.8 C11.8,14.2 13.5,16.3 14.5,18.2 C15.4,20.0 16.7,23.1 16.2,24.8Z" fill="url(#lvBs)" opacity="0.68" filter="url(#blur)"/><ellipse cx="9.9" cy="19.0" rx="1.5" ry="0.8" fill="#f6dede" opacity="0.31"/><circle cx="14.4" cy="4.8" r="1.0" fill="#5a2828" opacity="0.85"/></svg>
<svg x="223.6" y="663.3" width="33.0" height="49.3" viewBox="0 0 30 42" preserveAspectRatio="none" overflow="visible"><use href="#bodyp" fill="url(#gB)"/><g clip-path="url(#cb)"><ellipse cx="15.4" cy="9" rx="9" ry="7.5" fill="url(#hl)" opacity="0.55"/><ellipse cx="18.2" cy="27.1" rx="7" ry="7.5" fill="#a86e72" opacity="0.25"/><path d="M10,16.5 Q16,20 14,26 M12,31 Q17,30 19,34" stroke="#efd4d0" stroke-width="1.1" fill="none" opacity="0.55"/><ellipse cx="10.7" cy="11.0" rx="2.6" ry="1.1" fill="url(#hl)"/><ellipse cx="24.4" cy="29.9" rx="1.6" ry="1.6" fill="url(#hl)"/><ellipse cx="25.1" cy="8.4" rx="2.9" ry="1.1" fill="url(#hl)"/><ellipse cx="17.6" cy="37.1" rx="1.9" ry="1.2" fill="url(#hl)"/><rect x="0" y="0" width="30" height="42" fill="#000" filter="url(#dk3)" opacity="0.7"/><rect x="0" y="0" width="30" height="42" fill="#000" filter="url(#tex2)" opacity="0.3"/></g><use href="#bodyp" fill="none" stroke="#a27176" stroke-width="0.9" opacity="0.75"/><path d="M16.2,22.8 C15.7,24.8 13.4,27.0 11.7,27.8 C10.0,28.6 7.8,28.1 5.9,27.5 C4.0,27.0 1.3,26.3 0.3,24.6 C-0.6,22.8 -0.5,19.3 0.2,17.3 C0.9,15.3 2.9,13.2 4.5,12.6 C6.1,12.0 8.0,13.1 9.7,13.7 C11.4,14.3 13.6,14.5 14.6,16.1 C15.7,17.6 16.7,20.9 16.2,22.8Z" fill="url(#lvBs)" opacity="0.72" filter="url(#blur)"/><ellipse cx="9.9" cy="17.0" rx="1.5" ry="0.8" fill="#f6dede" opacity="0.33"/><circle cx="14.7" cy="4.8" r="1.0" fill="#5a2828" opacity="0.85"/></svg>
<svg x="268.0" y="663.3" width="34.1" height="50.1" viewBox="0 0 30 42" preserveAspectRatio="none" overflow="visible"><use href="#bodyp" fill="url(#gB)"/><g clip-path="url(#cb)"><ellipse cx="14.4" cy="9" rx="9" ry="7.5" fill="url(#hl)" opacity="0.55"/><ellipse cx="17.2" cy="29.1" rx="7" ry="7.5" fill="#a86e72" opacity="0.25"/><path d="M10,16.2 Q16,20 14,26 M12,31 Q17,30 19,34" stroke="#efd4d0" stroke-width="1.1" fill="none" opacity="0.55"/><ellipse cx="17.1" cy="27.4" rx="2.2" ry="1.0" fill="url(#hl)"/><ellipse cx="19.3" cy="19.4" rx="2.7" ry="1.2" fill="url(#hl)"/><ellipse cx="26.0" cy="36.5" rx="2.6" ry="1.0" fill="url(#hl)"/><ellipse cx="11.8" cy="34.6" rx="2.7" ry="1.3" fill="url(#hl)"/><rect x="0" y="0" width="30" height="42" fill="#000" filter="url(#dk0)" opacity="0.7"/><rect x="0" y="0" width="30" height="42" fill="#000" filter="url(#tex3)" opacity="0.3"/></g><use href="#bodyp" fill="none" stroke="#a27176" stroke-width="0.9" opacity="0.75"/><path d="M13.6,20.2 C13.2,21.8 11.9,23.3 10.6,24.3 C9.3,25.3 7.4,26.7 6.0,26.3 C4.6,25.9 3.0,23.6 2.3,21.8 C1.6,20.0 1.4,17.4 1.8,15.5 C2.2,13.6 3.5,11.5 4.9,10.5 C6.3,9.5 8.8,8.8 10.1,9.5 C11.4,10.2 12.1,13.0 12.7,14.8 C13.3,16.6 13.9,18.6 13.6,20.2Z" fill="url(#lvBs)" opacity="0.77" filter="url(#blur)"/><ellipse cx="9.7" cy="15.0" rx="1.5" ry="0.8" fill="#f6dede" opacity="0.34"/><circle cx="14.4" cy="4.8" r="1.0" fill="#5a2828" opacity="0.85"/></svg>
<svg x="310.9" y="663.3" width="36.8" height="50.1" viewBox="0 0 30 42" preserveAspectRatio="none" overflow="visible"><use href="#bodyp" fill="url(#gB)"/><g clip-path="url(#cb)"><ellipse cx="16.0" cy="9" rx="9" ry="7.5" fill="url(#hl)" opacity="0.55"/><ellipse cx="20.7" cy="30.5" rx="7" ry="7.5" fill="#a86e72" opacity="0.25"/><path d="M10,16.1 Q16,20 14,26 M12,31 Q17,30 19,34" stroke="#efd4d0" stroke-width="1.1" fill="none" opacity="0.55"/><ellipse cx="11.0" cy="14.7" rx="2.1" ry="1.3" fill="url(#hl)"/><ellipse cx="11.6" cy="23.3" rx="1.6" ry="0.9" fill="url(#hl)"/><ellipse cx="20.8" cy="23.6" rx="2.4" ry="1.1" fill="url(#hl)"/><ellipse cx="17.7" cy="12.7" rx="2.0" ry="1.4" fill="url(#hl)"/><rect x="0" y="0" width="30" height="42" fill="#000" filter="url(#dk1)" opacity="0.7"/><rect x="0" y="0" width="30" height="42" fill="#000" filter="url(#tex0)" opacity="0.3"/></g><use href="#bodyp" fill="none" stroke="#a27176" stroke-width="0.9" opacity="0.75"/><path d="M14.8,25.0 C14.3,26.8 11.3,27.7 9.7,28.3 C8.1,29.0 6.9,29.3 5.3,29.0 C3.6,28.7 0.7,28.4 -0.2,26.7 C-1.1,25.1 -0.8,21.5 -0.2,19.2 C0.4,17.0 1.8,13.9 3.3,13.2 C4.8,12.4 7.2,13.8 8.8,14.6 C10.5,15.4 12.1,16.3 13.1,18.0 C14.1,19.7 15.4,23.3 14.8,25.0Z" fill="url(#lvBs)" opacity="0.77" filter="url(#blur)"/><ellipse cx="8.9" cy="18.7" rx="1.5" ry="0.8" fill="#f6dede" opacity="0.34"/><circle cx="14.4" cy="4.8" r="1.0" fill="#5a2828" opacity="0.85"/></svg>
<svg x="354.1" y="665.2" width="37.2" height="48.2" viewBox="0 0 30 42" preserveAspectRatio="none" overflow="visible"><use href="#bodyp" fill="url(#gB)"/><g clip-path="url(#cb)"><ellipse cx="15.6" cy="9" rx="9" ry="7.5" fill="url(#hl)" opacity="0.55"/><ellipse cx="18.5" cy="29.6" rx="7" ry="7.5" fill="#a86e72" opacity="0.25"/><path d="M10,18.0 Q16,20 14,26 M12,31 Q17,30 19,34" stroke="#efd4d0" stroke-width="1.1" fill="none" opacity="0.55"/><ellipse cx="15.2" cy="23.6" rx="2.6" ry="1.5" fill="url(#hl)"/><ellipse cx="16.8" cy="17.8" rx="1.6" ry="1.5" fill="url(#hl)"/><ellipse cx="11.3" cy="8.7" rx="2.3" ry="1.2" fill="url(#hl)"/><ellipse cx="21.0" cy="15.6" rx="2.7" ry="0.9" fill="url(#hl)"/><rect x="0" y="0" width="30" height="42" fill="#000" filter="url(#dk2)" opacity="0.7"/><rect x="0" y="0" width="30" height="42" fill="#000" filter="url(#tex1)" opacity="0.3"/></g><use href="#bodyp" fill="none" stroke="#a27176" stroke-width="0.9" opacity="0.75"/><path d="M13.9,26.1 C13.6,27.8 12.8,30.9 11.6,31.6 C10.3,32.3 7.9,30.9 6.3,30.2 C4.8,29.5 3.2,28.9 2.3,27.4 C1.3,25.9 0.2,23.2 0.5,21.4 C0.9,19.5 2.8,17.0 4.4,16.3 C6.0,15.6 8.4,16.4 9.9,17.1 C11.4,17.9 12.6,19.4 13.3,20.9 C13.9,22.4 14.2,24.3 13.9,26.1Z" fill="url(#lvBs)" opacity="0.77" filter="url(#blur)"/><ellipse cx="9.9" cy="21.0" rx="1.5" ry="0.8" fill="#f6dede" opacity="0.34"/><circle cx="14.5" cy="4.8" r="1.0" fill="#5a2828" opacity="0.85"/></svg>
<svg x="400.8" y="665.2" width="34.2" height="48.2" viewBox="0 0 30 42" preserveAspectRatio="none" overflow="visible"><use href="#bodyp" fill="url(#gB)"/><g clip-path="url(#cb)"><ellipse cx="15.5" cy="9" rx="9" ry="7.5" fill="url(#hl)" opacity="0.55"/><ellipse cx="18.5" cy="27.5" rx="7" ry="7.5" fill="#a86e72" opacity="0.25"/><path d="M10,17.4 Q16,20 14,26 M12,31 Q17,30 19,34" stroke="#efd4d0" stroke-width="1.1" fill="none" opacity="0.55"/><ellipse cx="19.1" cy="35.4" rx="2.9" ry="1.5" fill="url(#hl)"/><ellipse cx="17.0" cy="31.7" rx="2.0" ry="1.1" fill="url(#hl)"/><ellipse cx="16.4" cy="35.9" rx="2.8" ry="1.0" fill="url(#hl)"/><ellipse cx="15.8" cy="17.7" rx="2.0" ry="1.1" fill="url(#hl)"/><rect x="0" y="0" width="30" height="42" fill="#000" filter="url(#dk3)" opacity="0.7"/><rect x="0" y="0" width="30" height="42" fill="#000" filter="url(#tex2)" opacity="0.3"/></g><use href="#bodyp" fill="none" stroke="#a27176" stroke-width="0.9" opacity="0.75"/><path d="M12.6,24.2 C12.3,25.8 10.7,27.1 9.5,28.1 C8.2,29.0 6.6,30.2 5.1,29.9 C3.7,29.6 1.4,28.0 0.7,26.2 C0.1,24.5 0.5,21.7 0.9,19.6 C1.4,17.5 2.3,14.7 3.7,13.8 C5.0,12.9 7.6,13.3 8.9,14.1 C10.2,15.0 11.1,17.1 11.7,18.8 C12.3,20.5 13.0,22.7 12.6,24.2Z" fill="url(#lvBs)" opacity="0.72" filter="url(#blur)"/><ellipse cx="8.7" cy="19.0" rx="1.5" ry="0.8" fill="#f6dede" opacity="0.33"/><circle cx="15.1" cy="4.8" r="1.0" fill="#5a2828" opacity="0.85"/></svg>
<path d="M1.9,16.2 L7.6,0.3 L13.5,16.2 M4.2,10.1 H11.0" fill="none" stroke="#231815" stroke-width="1.95" stroke-linejoin="miter"/>
<path d="M262.8,0.6 V15.5 H268.3 C272.2,15.5 273.1,13.6 273.1,11.7 C273.1,9.6 271.8,8.0 268.3,8.0 H262.8 M262.8,0.6 H267.6 C270.6,0.6 271.7,2.3 271.7,4.2 C271.7,6.3 270.5,8.0 267.6,8.0" fill="none" stroke="#231815" stroke-width="1.95"/>
<path d="M14.1,210.6 A6.4,7.45 0 1 0 14.3,217.8" fill="none" stroke="#231815" stroke-width="1.95"/>
<path d="M4.1,471.9 V486.6 H8.6 C13.6,486.6 15.4,483.4 15.4,479.25 C15.4,475.1 13.6,471.9 8.6,471.9 Z" fill="none" stroke="#231815" stroke-width="1.95"/>
<rect x="74.4" y="32.4" width="160.0" height="110.19999999999999" fill="none" stroke="#111" stroke-width="1.3"/>
<line x1="70.10" y1="142.60" x2="74.40" y2="142.60" stroke="#111" stroke-width="1.2"/>
<text x="68.90" y="145.60" font-size="8.4" text-anchor="end" font-weight="bold" fill="#222" textLength="4.3" lengthAdjust="spacingAndGlyphs" >0</text>
<line x1="70.10" y1="115.05" x2="74.40" y2="115.05" stroke="#111" stroke-width="1.2"/>
<text x="68.90" y="118.05" font-size="8.4" text-anchor="end" font-weight="bold" fill="#222" textLength="8.5" lengthAdjust="spacingAndGlyphs" >10</text>
<line x1="70.10" y1="87.50" x2="74.40" y2="87.50" stroke="#111" stroke-width="1.2"/>
<text x="68.90" y="90.50" font-size="8.4" text-anchor="end" font-weight="bold" fill="#222" textLength="8.5" lengthAdjust="spacingAndGlyphs" >20</text>
<line x1="70.10" y1="59.95" x2="74.40" y2="59.95" stroke="#111" stroke-width="1.2"/>
<text x="68.90" y="62.95" font-size="8.4" text-anchor="end" font-weight="bold" fill="#222" textLength="8.5" lengthAdjust="spacingAndGlyphs" >30</text>
<line x1="70.10" y1="32.40" x2="74.40" y2="32.40" stroke="#111" stroke-width="1.2"/>
<text x="68.90" y="35.40" font-size="8.4" text-anchor="end" font-weight="bold" fill="#222" textLength="8.5" lengthAdjust="spacingAndGlyphs" >40</text>
<line x1="74.40" y1="142.60" x2="74.40" y2="146.40" stroke="#111" stroke-width="1.2"/>
<text x="74.40" y="156.50" font-size="8.4" text-anchor="middle" font-weight="bold" fill="#222" textLength="4.3" lengthAdjust="spacingAndGlyphs" >0</text>
<line x1="106.40" y1="142.60" x2="106.40" y2="146.40" stroke="#111" stroke-width="1.2"/>
<text x="106.40" y="156.50" font-size="8.4" text-anchor="middle" font-weight="bold" fill="#222" textLength="4.3" lengthAdjust="spacingAndGlyphs" >5</text>
<line x1="138.40" y1="142.60" x2="138.40" y2="146.40" stroke="#111" stroke-width="1.2"/>
<text x="138.40" y="156.50" font-size="8.4" text-anchor="middle" font-weight="bold" fill="#222" textLength="8.5" lengthAdjust="spacingAndGlyphs" >10</text>
<line x1="170.40" y1="142.60" x2="170.40" y2="146.40" stroke="#111" stroke-width="1.2"/>
<text x="170.40" y="156.50" font-size="8.4" text-anchor="middle" font-weight="bold" fill="#222" textLength="8.5" lengthAdjust="spacingAndGlyphs" >15</text>
<line x1="202.40" y1="142.60" x2="202.40" y2="146.40" stroke="#111" stroke-width="1.2"/>
<text x="202.40" y="156.50" font-size="8.4" text-anchor="middle" font-weight="bold" fill="#222" textLength="8.5" lengthAdjust="spacingAndGlyphs" >20</text>
<line x1="234.40" y1="142.60" x2="234.40" y2="146.40" stroke="#111" stroke-width="1.2"/>
<text x="234.40" y="156.50" font-size="8.4" text-anchor="middle" font-weight="bold" fill="#222" textLength="8.5" lengthAdjust="spacingAndGlyphs" >25</text>
<text x="128.00" y="170.30" font-size="8.9" text-anchor="start" font-weight="bold" fill="#222" textLength="22.6" lengthAdjust="spacingAndGlyphs" >Time</text>
<text x="150.60" y="170.10" font-size="8.455" text-anchor="start" font-weight="normal" fill="#333" >(</text>
<text x="157.60" y="170.30" font-size="8.9" text-anchor="start" font-weight="bold" fill="#222" textLength="16.6" lengthAdjust="spacingAndGlyphs" >day</text>
<text x="175.40" y="170.10" font-size="8.455" text-anchor="start" font-weight="normal" fill="#333" >)</text>
<text transform="translate(54.00,87.30) rotate(-90)" x="0" y="0" font-size="7.6" text-anchor="middle" font-weight="bold" fill="#222" textLength="41.6" lengthAdjust="spacingAndGlyphs" stroke="#222" stroke-width="0.35">weight(g)</text>
<polyline points="74.40,91.63 80.80,92.18 87.20,91.91 93.60,91.63 100.00,91.36 106.40,90.53 112.80,89.98 119.20,89.43 125.60,87.78 132.00,86.67 138.40,83.64 144.80,79.23 151.20,76.48 157.60,74.28 164.00,71.52 170.40,67.39 176.80,61.88 183.20,56.09 189.60,51.69 196.00,48.93 202.40,50.03 208.80,48.93" fill="none" stroke="#1f8a3a" stroke-width="0.7"/>
<polyline points="74.40,92.18 80.80,93.01 87.20,93.29 93.60,93.01 100.00,92.46 106.40,91.36 112.80,90.81 119.20,90.53 125.60,88.60 132.00,88.05 138.40,85.57 144.80,81.44 151.20,78.13 157.60,75.65 164.00,73.17 170.40,70.97 176.80,65.46 183.20,58.85 189.60,55.54 196.00,56.09 202.40,55.54 208.80,56.09" fill="none" stroke="#1f2f9a" stroke-width="0.7"/>
<polyline points="74.40,91.36 80.80,91.91 87.20,91.36 93.60,91.08 100.00,90.81 106.40,90.81 112.80,90.25 119.20,89.70 125.60,88.60 132.00,88.33 138.40,87.22 144.80,84.75 151.20,83.09 157.60,79.79 164.00,77.58 170.40,75.38 176.80,70.42 183.20,64.36 189.60,59.95 196.00,56.37 202.40,56.37 208.80,53.61" fill="none" stroke="#e8141b" stroke-width="0.8"/>
<polyline points="74.40,92.46 80.80,93.29 87.20,94.11 93.60,93.29 100.00,92.73 106.40,91.63 112.80,91.08 119.20,91.91 125.60,88.88 132.00,89.15 138.40,87.78 144.80,85.02 151.20,84.19 157.60,79.23 164.00,77.03 170.40,75.38 176.80,69.87 183.20,63.81 189.60,59.40 196.00,53.34 202.40,51.69 208.80,51.69" fill="none" stroke="#111" stroke-width="0.8"/>
<line x1="74.40" y1="91.36" x2="74.40" y2="93.01" stroke="#e86a6a" stroke-width="0.8"/>
<line x1="72.20" y1="93.01" x2="76.60" y2="93.01" stroke="#e86a6a" stroke-width="0.8"/>
<line x1="80.80" y1="91.91" x2="80.80" y2="93.29" stroke="#e86a6a" stroke-width="0.8"/>
<line x1="78.60" y1="93.29" x2="83.00" y2="93.29" stroke="#e86a6a" stroke-width="0.8"/>
<line x1="87.20" y1="91.36" x2="87.20" y2="92.73" stroke="#e86a6a" stroke-width="0.8"/>
<line x1="85.00" y1="92.73" x2="89.40" y2="92.73" stroke="#e86a6a" stroke-width="0.8"/>
<line x1="93.60" y1="91.08" x2="93.60" y2="92.73" stroke="#e86a6a" stroke-width="0.8"/>
<line x1="91.40" y1="92.73" x2="95.80" y2="92.73" stroke="#e86a6a" stroke-width="0.8"/>
<line x1="100.00" y1="90.81" x2="100.00" y2="92.46" stroke="#e86a6a" stroke-width="0.8"/>
<line x1="97.80" y1="92.46" x2="102.20" y2="92.46" stroke="#e86a6a" stroke-width="0.8"/>
<line x1="106.40" y1="90.81" x2="106.40" y2="92.46" stroke="#e86a6a" stroke-width="0.8"/>
<line x1="104.20" y1="92.46" x2="108.60" y2="92.46" stroke="#e86a6a" stroke-width="0.8"/>
<line x1="112.80" y1="90.25" x2="112.80" y2="92.18" stroke="#e86a6a" stroke-width="0.8"/>
<line x1="110.60" y1="92.18" x2="115.00" y2="92.18" stroke="#e86a6a" stroke-width="0.8"/>
<line x1="119.20" y1="89.70" x2="119.20" y2="91.63" stroke="#e86a6a" stroke-width="0.8"/>
<line x1="117.00" y1="91.63" x2="121.40" y2="91.63" stroke="#e86a6a" stroke-width="0.8"/>
<line x1="125.60" y1="88.60" x2="125.60" y2="90.81" stroke="#e86a6a" stroke-width="0.8"/>
<line x1="123.40" y1="90.81" x2="127.80" y2="90.81" stroke="#e86a6a" stroke-width="0.8"/>
<line x1="132.00" y1="88.33" x2="132.00" y2="90.81" stroke="#e86a6a" stroke-width="0.8"/>
<line x1="129.80" y1="90.81" x2="134.20" y2="90.81" stroke="#e86a6a" stroke-width="0.8"/>
<line x1="138.40" y1="87.22" x2="138.40" y2="89.98" stroke="#e86a6a" stroke-width="0.8"/>
<line x1="136.20" y1="89.98" x2="140.60" y2="89.98" stroke="#e86a6a" stroke-width="0.8"/>
<line x1="144.80" y1="84.75" x2="144.80" y2="88.05" stroke="#e86a6a" stroke-width="0.8"/>
<line x1="142.60" y1="88.05" x2="147.00" y2="88.05" stroke="#e86a6a" stroke-width="0.8"/>
<line x1="151.20" y1="83.09" x2="151.20" y2="87.22" stroke="#e86a6a" stroke-width="0.8"/>
<line x1="149.00" y1="87.22" x2="153.40" y2="87.22" stroke="#e86a6a" stroke-width="0.8"/>
<line x1="157.60" y1="79.79" x2="157.60" y2="84.75" stroke="#e86a6a" stroke-width="0.8"/>
<line x1="155.40" y1="84.75" x2="159.80" y2="84.75" stroke="#e86a6a" stroke-width="0.8"/>
<line x1="164.00" y1="77.58" x2="164.00" y2="83.09" stroke="#e86a6a" stroke-width="0.8"/>
<line x1="161.80" y1="83.09" x2="166.20" y2="83.09" stroke="#e86a6a" stroke-width="0.8"/>
<line x1="170.40" y1="75.38" x2="170.40" y2="81.44" stroke="#e86a6a" stroke-width="0.8"/>
<line x1="168.20" y1="81.44" x2="172.60" y2="81.44" stroke="#e86a6a" stroke-width="0.8"/>
<line x1="176.80" y1="70.42" x2="176.80" y2="77.31" stroke="#e86a6a" stroke-width="0.8"/>
<line x1="174.60" y1="77.31" x2="179.00" y2="77.31" stroke="#e86a6a" stroke-width="0.8"/>
<line x1="183.20" y1="64.36" x2="183.20" y2="72.35" stroke="#e86a6a" stroke-width="0.8"/>
<line x1="181.00" y1="72.35" x2="185.40" y2="72.35" stroke="#e86a6a" stroke-width="0.8"/>
<line x1="183.20" y1="58.85" x2="183.20" y2="62.15" stroke="#1f2f9a" stroke-width="0.8"/>
<line x1="181.00" y1="62.15" x2="185.40" y2="62.15" stroke="#1f2f9a" stroke-width="0.9"/>
<line x1="189.60" y1="59.95" x2="189.60" y2="66.84" stroke="#e86a6a" stroke-width="0.8"/>
<line x1="187.40" y1="66.84" x2="191.80" y2="66.84" stroke="#e86a6a" stroke-width="0.8"/>
<line x1="189.60" y1="55.54" x2="189.60" y2="58.85" stroke="#1f2f9a" stroke-width="0.8"/>
<line x1="187.40" y1="58.85" x2="191.80" y2="58.85" stroke="#1f2f9a" stroke-width="0.9"/>
<line x1="196.00" y1="56.37" x2="196.00" y2="61.88" stroke="#e86a6a" stroke-width="0.8"/>
<line x1="193.80" y1="61.88" x2="198.20" y2="61.88" stroke="#e86a6a" stroke-width="0.8"/>
<line x1="196.00" y1="56.09" x2="196.00" y2="59.40" stroke="#1f2f9a" stroke-width="0.8"/>
<line x1="193.80" y1="59.40" x2="198.20" y2="59.40" stroke="#1f2f9a" stroke-width="0.9"/>
<line x1="202.40" y1="56.37" x2="202.40" y2="60.78" stroke="#e86a6a" stroke-width="0.8"/>
<line x1="200.20" y1="60.78" x2="204.60" y2="60.78" stroke="#e86a6a" stroke-width="0.8"/>
<line x1="202.40" y1="55.54" x2="202.40" y2="58.85" stroke="#1f2f9a" stroke-width="0.8"/>
<line x1="200.20" y1="58.85" x2="204.60" y2="58.85" stroke="#1f2f9a" stroke-width="0.9"/>
<line x1="208.80" y1="53.61" x2="208.80" y2="57.75" stroke="#e86a6a" stroke-width="0.8"/>
<line x1="206.60" y1="57.75" x2="211.00" y2="57.75" stroke="#e86a6a" stroke-width="0.8"/>
<line x1="208.80" y1="56.09" x2="208.80" y2="59.40" stroke="#1f2f9a" stroke-width="0.8"/>
<line x1="206.60" y1="59.40" x2="211.00" y2="59.40" stroke="#1f2f9a" stroke-width="0.9"/>
<line x1="132.00" y1="86.67" x2="132.00" y2="84.47" stroke="#1f8a3a" stroke-width="0.8"/>
<line x1="129.80" y1="84.47" x2="134.20" y2="84.47" stroke="#1f8a3a" stroke-width="1.0"/>
<polygon points="130.00,84.87 134.00,84.87 132.00,88.47" fill="#17722f"/>
<line x1="138.40" y1="83.64" x2="138.40" y2="81.44" stroke="#1f8a3a" stroke-width="0.8"/>
<line x1="136.20" y1="81.44" x2="140.60" y2="81.44" stroke="#1f8a3a" stroke-width="1.0"/>
<polygon points="136.40,81.84 140.40,81.84 138.40,85.44" fill="#17722f"/>
<polygon points="136.40,87.37 140.40,87.37 138.40,83.77" fill="#1a2688"/>
<line x1="144.80" y1="79.23" x2="144.80" y2="77.03" stroke="#1f8a3a" stroke-width="0.8"/>
<line x1="142.60" y1="77.03" x2="147.00" y2="77.03" stroke="#1f8a3a" stroke-width="1.0"/>
<polygon points="142.80,77.44 146.80,77.44 144.80,81.03" fill="#17722f"/>
<polygon points="142.80,83.24 146.80,83.24 144.80,79.64" fill="#1a2688"/>
<line x1="151.20" y1="76.48" x2="151.20" y2="74.28" stroke="#1f8a3a" stroke-width="0.8"/>
<line x1="149.00" y1="74.28" x2="153.40" y2="74.28" stroke="#1f8a3a" stroke-width="1.0"/>
<polygon points="149.20,74.68 153.20,74.68 151.20,78.28" fill="#17722f"/>
<polygon points="149.20,79.93 153.20,79.93 151.20,76.33" fill="#1a2688"/>
<line x1="157.60" y1="74.28" x2="157.60" y2="72.08" stroke="#1f8a3a" stroke-width="0.8"/>
<line x1="155.40" y1="72.08" x2="159.80" y2="72.08" stroke="#1f8a3a" stroke-width="1.0"/>
<polygon points="155.60,72.48 159.60,72.48 157.60,76.08" fill="#17722f"/>
<polygon points="155.60,77.45 159.60,77.45 157.60,73.85" fill="#1a2688"/>
<line x1="164.00" y1="71.52" x2="164.00" y2="69.32" stroke="#1f8a3a" stroke-width="0.8"/>
<line x1="161.80" y1="69.32" x2="166.20" y2="69.32" stroke="#1f8a3a" stroke-width="1.0"/>
<polygon points="162.00,69.72 166.00,69.72 164.00,73.32" fill="#17722f"/>
<polygon points="162.00,74.97 166.00,74.97 164.00,71.37" fill="#1a2688"/>
<line x1="170.40" y1="67.39" x2="170.40" y2="65.19" stroke="#1f8a3a" stroke-width="0.8"/>
<line x1="168.20" y1="65.19" x2="172.60" y2="65.19" stroke="#1f8a3a" stroke-width="1.0"/>
<polygon points="168.40,65.59 172.40,65.59 170.40,69.19" fill="#17722f"/>
<polygon points="168.40,72.77 172.40,72.77 170.40,69.17" fill="#1a2688"/>
<line x1="176.80" y1="61.88" x2="176.80" y2="59.68" stroke="#1f8a3a" stroke-width="0.8"/>
<line x1="174.60" y1="59.68" x2="179.00" y2="59.68" stroke="#1f8a3a" stroke-width="1.0"/>
<polygon points="174.80,60.08 178.80,60.08 176.80,63.68" fill="#17722f"/>
<polygon points="174.80,67.26 178.80,67.26 176.80,63.66" fill="#1a2688"/>
<line x1="183.20" y1="56.09" x2="183.20" y2="53.89" stroke="#1f8a3a" stroke-width="0.8"/>
<line x1="181.00" y1="53.89" x2="185.40" y2="53.89" stroke="#1f8a3a" stroke-width="1.0"/>
<polygon points="181.20,54.29 185.20,54.29 183.20,57.89" fill="#17722f"/>
<polygon points="181.20,60.65 185.20,60.65 183.20,57.05" fill="#1a2688"/>
<line x1="189.60" y1="51.69" x2="189.60" y2="49.48" stroke="#1f8a3a" stroke-width="0.8"/>
<line x1="187.40" y1="49.48" x2="191.80" y2="49.48" stroke="#1f8a3a" stroke-width="1.0"/>
<polygon points="187.60,49.89 191.60,49.89 189.60,53.48" fill="#17722f"/>
<polygon points="187.60,57.34 191.60,57.34 189.60,53.74" fill="#1a2688"/>
<line x1="196.00" y1="48.93" x2="196.00" y2="46.73" stroke="#1f8a3a" stroke-width="0.8"/>
<line x1="193.80" y1="46.73" x2="198.20" y2="46.73" stroke="#1f8a3a" stroke-width="1.0"/>
<polygon points="194.00,47.13 198.00,47.13 196.00,50.73" fill="#17722f"/>
<polygon points="194.00,57.89 198.00,57.89 196.00,54.29" fill="#1a2688"/>
<line x1="202.40" y1="50.03" x2="202.40" y2="47.83" stroke="#1f8a3a" stroke-width="0.8"/>
<line x1="200.20" y1="47.83" x2="204.60" y2="47.83" stroke="#1f8a3a" stroke-width="1.0"/>
<polygon points="200.40,48.23 204.40,48.23 202.40,51.83" fill="#17722f"/>
<polygon points="200.40,57.34 204.40,57.34 202.40,53.74" fill="#1a2688"/>
<line x1="208.80" y1="48.93" x2="208.80" y2="46.73" stroke="#1f8a3a" stroke-width="0.8"/>
<line x1="206.60" y1="46.73" x2="211.00" y2="46.73" stroke="#1f8a3a" stroke-width="1.0"/>
<polygon points="206.80,47.13 210.80,47.13 208.80,50.73" fill="#17722f"/>
<polygon points="206.80,57.89 210.80,57.89 208.80,54.29" fill="#1a2688"/>
<rect x="72.00" y="88.96" width="4.80" height="4.80" fill="#e8141b" stroke="none" stroke-width="1"/>
<rect x="78.40" y="89.51" width="4.80" height="4.80" fill="#e8141b" stroke="none" stroke-width="1"/>
<rect x="84.80" y="88.96" width="4.80" height="4.80" fill="#e8141b" stroke="none" stroke-width="1"/>
<rect x="91.20" y="88.68" width="4.80" height="4.80" fill="#e8141b" stroke="none" stroke-width="1"/>
<rect x="97.60" y="88.41" width="4.80" height="4.80" fill="#e8141b" stroke="none" stroke-width="1"/>
<rect x="104.00" y="88.41" width="4.80" height="4.80" fill="#e8141b" stroke="none" stroke-width="1"/>
<rect x="110.40" y="87.85" width="4.80" height="4.80" fill="#e8141b" stroke="none" stroke-width="1"/>
<rect x="116.80" y="87.30" width="4.80" height="4.80" fill="#e8141b" stroke="none" stroke-width="1"/>
<rect x="123.20" y="86.20" width="4.80" height="4.80" fill="#e8141b" stroke="none" stroke-width="1"/>
<rect x="129.60" y="85.93" width="4.80" height="4.80" fill="#e8141b" stroke="none" stroke-width="1"/>
<rect x="136.00" y="84.82" width="4.80" height="4.80" fill="#e8141b" stroke="none" stroke-width="1"/>
<rect x="142.40" y="82.34" width="4.80" height="4.80" fill="#e8141b" stroke="none" stroke-width="1"/>
<rect x="148.80" y="80.69" width="4.80" height="4.80" fill="#e8141b" stroke="none" stroke-width="1"/>
<rect x="155.20" y="77.39" width="4.80" height="4.80" fill="#e8141b" stroke="none" stroke-width="1"/>
<rect x="161.60" y="75.18" width="4.80" height="4.80" fill="#e8141b" stroke="none" stroke-width="1"/>
<rect x="168.00" y="72.98" width="4.80" height="4.80" fill="#e8141b" stroke="none" stroke-width="1"/>
<rect x="174.40" y="68.02" width="4.80" height="4.80" fill="#e8141b" stroke="none" stroke-width="1"/>
<rect x="180.80" y="61.96" width="4.80" height="4.80" fill="#e8141b" stroke="none" stroke-width="1"/>
<rect x="187.20" y="57.55" width="4.80" height="4.80" fill="#e8141b" stroke="none" stroke-width="1"/>
<rect x="193.60" y="53.97" width="4.80" height="4.80" fill="#e8141b" stroke="none" stroke-width="1"/>
<rect x="200.00" y="53.97" width="4.80" height="4.80" fill="#e8141b" stroke="none" stroke-width="1"/>
<rect x="206.40" y="51.21" width="4.80" height="4.80" fill="#e8141b" stroke="none" stroke-width="1"/>
<circle cx="74.40" cy="92.46" r="2.70" fill="#e8141b" stroke="#151515" stroke-width="1.05"/>
<circle cx="80.80" cy="93.29" r="2.70" fill="#e8141b" stroke="#151515" stroke-width="1.05"/>
<circle cx="87.20" cy="94.11" r="2.70" fill="#e8e8e8" stroke="#151515" stroke-width="1.05"/>
<circle cx="93.60" cy="93.29" r="2.70" fill="#e8141b" stroke="#151515" stroke-width="1.05"/>
<circle cx="100.00" cy="92.73" r="2.70" fill="#e8141b" stroke="#151515" stroke-width="1.05"/>
<circle cx="106.40" cy="91.63" r="2.70" fill="#e8141b" stroke="#151515" stroke-width="1.05"/>
<circle cx="112.80" cy="91.08" r="2.70" fill="#e8141b" stroke="#151515" stroke-width="1.05"/>
<circle cx="119.20" cy="91.91" r="2.70" fill="#e8e8e8" stroke="#151515" stroke-width="1.05"/>
<circle cx="125.60" cy="88.88" r="2.70" fill="#e8141b" stroke="#151515" stroke-width="1.05"/>
<circle cx="132.00" cy="89.15" r="2.70" fill="#e8141b" stroke="#151515" stroke-width="1.05"/>
<circle cx="138.40" cy="87.78" r="2.70" fill="#e8141b" stroke="#151515" stroke-width="1.05"/>
<circle cx="144.80" cy="85.02" r="2.70" fill="#e8141b" stroke="#151515" stroke-width="1.05"/>
<circle cx="151.20" cy="84.19" r="2.70" fill="#e8e8e8" stroke="#151515" stroke-width="1.05"/>
<circle cx="157.60" cy="79.23" r="2.70" fill="#e8141b" stroke="#151515" stroke-width="1.05"/>
<circle cx="164.00" cy="77.03" r="2.70" fill="#e8141b" stroke="#151515" stroke-width="1.05"/>
<circle cx="170.40" cy="75.38" r="2.70" fill="#e8141b" stroke="#151515" stroke-width="1.05"/>
<circle cx="176.80" cy="69.87" r="2.70" fill="#e8141b" stroke="#151515" stroke-width="1.05"/>
<circle cx="183.20" cy="63.81" r="2.70" fill="#e8141b" stroke="#151515" stroke-width="1.05"/>
<circle cx="189.60" cy="59.40" r="2.70" fill="#e8141b" stroke="#151515" stroke-width="1.05"/>
<circle cx="196.00" cy="53.34" r="2.70" fill="#e8141b" stroke="#151515" stroke-width="1.05"/>
<circle cx="202.40" cy="51.69" r="2.70" fill="#e8141b" stroke="#151515" stroke-width="1.05"/>
<circle cx="208.80" cy="51.69" r="2.70" fill="#e8141b" stroke="#151515" stroke-width="1.05"/>
<line x1="84.50" y1="41.00" x2="95.80" y2="41.00" stroke="#111" stroke-width="0.7"/>
<circle cx="90.10" cy="41.00" r="2.40" fill="#fff" stroke="#111" stroke-width="1.35"/>
<text x="102.60" y="43.20" font-size="6.4" text-anchor="start" font-weight="normal" fill="#2a2a2a" textLength="8.6" lengthAdjust="spacingAndGlyphs" >Ctrl</text>
<line x1="84.50" y1="52.40" x2="95.80" y2="52.40" stroke="#e8141b" stroke-width="0.7"/>
<rect x="87.70" y="50.00" width="4.80" height="4.80" fill="#e8141b" stroke="none" stroke-width="1"/>
<text x="102.60" y="54.60" font-size="6.4" text-anchor="start" font-weight="normal" fill="#2a2a2a" textLength="12.6" lengthAdjust="spacingAndGlyphs" >OMV</text>
<line x1="84.50" y1="63.60" x2="95.80" y2="63.60" stroke="#1f2f9a" stroke-width="0.7"/>
<polygon points="87.60,65.85 92.60,65.85 90.10,61.35" fill="#1f2f9a"/>
<text x="102.60" y="65.80" font-size="6.4" text-anchor="start" font-weight="normal" fill="#2a2a2a" textLength="9.6" lengthAdjust="spacingAndGlyphs" >Res</text>
<line x1="84.50" y1="74.80" x2="95.80" y2="74.80" stroke="#1f8a3a" stroke-width="0.7"/>
<polygon points="87.60,72.55 92.60,72.55 90.10,77.05" fill="#1f8a3a"/>
<text x="102.60" y="77.00" font-size="6.4" text-anchor="start" font-weight="normal" fill="#2a2a2a" textLength="27.0" lengthAdjust="spacingAndGlyphs" >Res+OMV</text>
<rect x="286.0" y="31.8" width="173.60000000000002" height="109.8" fill="none" stroke="#111" stroke-width="1.2"/>
<line x1="281.40" y1="141.60" x2="286.00" y2="141.60" stroke="#111" stroke-width="1.15"/>
<text x="280.40" y="144.20" font-size="7.6" text-anchor="end" font-weight="normal" fill="#222" textLength="3.6" lengthAdjust="spacingAndGlyphs" stroke="#222" stroke-width="0.22">0</text>
<line x1="283.20" y1="134.29" x2="286.00" y2="134.29" stroke="#111" stroke-width="1.0"/>
<line x1="283.20" y1="126.98" x2="286.00" y2="126.98" stroke="#111" stroke-width="1.0"/>
<line x1="283.20" y1="119.68" x2="286.00" y2="119.68" stroke="#111" stroke-width="1.0"/>
<line x1="283.20" y1="112.37" x2="286.00" y2="112.37" stroke="#111" stroke-width="1.0"/>
<line x1="281.40" y1="105.06" x2="286.00" y2="105.06" stroke="#111" stroke-width="1.15"/>
<text x="280.40" y="107.66" font-size="7.6" text-anchor="end" font-weight="normal" fill="#222" textLength="3.6" lengthAdjust="spacingAndGlyphs" stroke="#222" stroke-width="0.22">2</text>
<line x1="283.20" y1="97.75" x2="286.00" y2="97.75" stroke="#111" stroke-width="1.0"/>
<line x1="283.20" y1="90.44" x2="286.00" y2="90.44" stroke="#111" stroke-width="1.0"/>
<line x1="283.20" y1="83.14" x2="286.00" y2="83.14" stroke="#111" stroke-width="1.0"/>
<line x1="283.20" y1="75.83" x2="286.00" y2="75.83" stroke="#111" stroke-width="1.0"/>
<line x1="281.40" y1="68.52" x2="286.00" y2="68.52" stroke="#111" stroke-width="1.15"/>
<text x="280.40" y="71.12" font-size="7.6" text-anchor="end" font-weight="normal" fill="#222" textLength="3.6" lengthAdjust="spacingAndGlyphs" stroke="#222" stroke-width="0.22">4</text>
<line x1="283.20" y1="61.21" x2="286.00" y2="61.21" stroke="#111" stroke-width="1.0"/>
<line x1="283.20" y1="53.90" x2="286.00" y2="53.90" stroke="#111" stroke-width="1.0"/>
<line x1="283.20" y1="46.60" x2="286.00" y2="46.60" stroke="#111" stroke-width="1.0"/>
<line x1="283.20" y1="39.29" x2="286.00" y2="39.29" stroke="#111" stroke-width="1.0"/>
<line x1="281.40" y1="31.98" x2="286.00" y2="31.98" stroke="#111" stroke-width="1.15"/>
<text x="280.40" y="34.58" font-size="7.6" text-anchor="end" font-weight="normal" fill="#222" textLength="3.6" lengthAdjust="spacingAndGlyphs" stroke="#222" stroke-width="0.22">6</text>
<line x1="286.10" y1="141.60" x2="286.10" y2="146.80" stroke="#111" stroke-width="1.15"/>
<text x="285.90" y="156.00" font-size="7.6" text-anchor="middle" font-weight="normal" fill="#222" textLength="9.0" lengthAdjust="spacingAndGlyphs" stroke="#222" stroke-width="0.22">-10</text>
<line x1="294.76" y1="141.60" x2="294.76" y2="144.50" stroke="#111" stroke-width="1.0"/>
<line x1="303.42" y1="141.60" x2="303.42" y2="144.50" stroke="#111" stroke-width="1.0"/>
<line x1="312.08" y1="141.60" x2="312.08" y2="144.50" stroke="#111" stroke-width="1.0"/>
<line x1="320.74" y1="141.60" x2="320.74" y2="144.50" stroke="#111" stroke-width="1.0"/>
<line x1="329.40" y1="141.60" x2="329.40" y2="146.80" stroke="#111" stroke-width="1.15"/>
<text x="329.20" y="156.00" font-size="7.6" text-anchor="middle" font-weight="normal" fill="#222" textLength="3.6" lengthAdjust="spacingAndGlyphs" stroke="#222" stroke-width="0.22">0</text>
<line x1="338.06" y1="141.60" x2="338.06" y2="144.50" stroke="#111" stroke-width="1.0"/>
<line x1="346.72" y1="141.60" x2="346.72" y2="144.50" stroke="#111" stroke-width="1.0"/>
<line x1="355.38" y1="141.60" x2="355.38" y2="144.50" stroke="#111" stroke-width="1.0"/>
<line x1="364.04" y1="141.60" x2="364.04" y2="144.50" stroke="#111" stroke-width="1.0"/>
<line x1="372.70" y1="141.60" x2="372.70" y2="146.80" stroke="#111" stroke-width="1.15"/>
<text x="372.50" y="156.00" font-size="7.6" text-anchor="middle" font-weight="normal" fill="#222" textLength="7.0" lengthAdjust="spacingAndGlyphs" stroke="#222" stroke-width="0.22">10</text>
<line x1="381.36" y1="141.60" x2="381.36" y2="144.50" stroke="#111" stroke-width="1.0"/>
<line x1="390.02" y1="141.60" x2="390.02" y2="144.50" stroke="#111" stroke-width="1.0"/>
<line x1="398.68" y1="141.60" x2="398.68" y2="144.50" stroke="#111" stroke-width="1.0"/>
<line x1="407.34" y1="141.60" x2="407.34" y2="144.50" stroke="#111" stroke-width="1.0"/>
<line x1="416.00" y1="141.60" x2="416.00" y2="146.80" stroke="#111" stroke-width="1.15"/>
<text x="415.80" y="156.00" font-size="7.6" text-anchor="middle" font-weight="normal" fill="#222" textLength="7.0" lengthAdjust="spacingAndGlyphs" stroke="#222" stroke-width="0.22">20</text>
<line x1="424.66" y1="141.60" x2="424.66" y2="144.50" stroke="#111" stroke-width="1.0"/>
<line x1="433.32" y1="141.60" x2="433.32" y2="144.50" stroke="#111" stroke-width="1.0"/>
<line x1="441.98" y1="141.60" x2="441.98" y2="144.50" stroke="#111" stroke-width="1.0"/>
<line x1="450.64" y1="141.60" x2="450.64" y2="144.50" stroke="#111" stroke-width="1.0"/>
<line x1="459.30" y1="141.60" x2="459.30" y2="146.80" stroke="#111" stroke-width="1.15"/>
<text x="459.10" y="156.00" font-size="7.6" text-anchor="middle" font-weight="normal" fill="#222" textLength="7.0" lengthAdjust="spacingAndGlyphs" stroke="#222" stroke-width="0.22">30</text>
<text x="350.90" y="170.60" font-size="9.0" text-anchor="start" font-weight="normal" fill="#222" textLength="18.2" lengthAdjust="spacingAndGlyphs" stroke="#222" stroke-width="0.25">Time</text>
<text x="370.20" y="170.40" font-size="8.549999999999999" text-anchor="start" font-weight="normal" fill="#333" >(</text>
<text x="375.80" y="170.60" font-size="9.0" text-anchor="start" font-weight="normal" fill="#222" textLength="13.4" lengthAdjust="spacingAndGlyphs" stroke="#222" stroke-width="0.25">day</text>
<text x="390.20" y="170.40" font-size="8.549999999999999" text-anchor="start" font-weight="normal" fill="#333" >)</text>
<text transform="translate(273.10,85.90) rotate(-90)" x="0" y="0" font-size="6.5" text-anchor="middle" font-weight="normal" fill="#222" textLength="50.2" lengthAdjust="spacingAndGlyphs" stroke="#222" stroke-width="0.3">volume ( ml )</text>
<polygon points="310.28,86.63 313.88,86.63 312.08,89.87" fill="#17722f"/>
<polygon points="310.28,91.88 313.88,91.88 312.08,88.64" fill="#1a2688"/>
<circle cx="312.08" cy="89.17" r="2.00" fill="#c0182a" stroke="#161616" stroke-width="1.0"/>
<rect x="310.33" y="87.42" width="3.50" height="3.50" fill="#e8141b" stroke="none" stroke-width="1"/>
<polygon points="314.61,89.55 318.21,89.55 316.41,92.79" fill="#17722f"/>
<polygon points="314.61,94.80 318.21,94.80 316.41,91.56" fill="#1a2688"/>
<circle cx="316.41" cy="92.09" r="2.00" fill="#c0182a" stroke="#161616" stroke-width="1.0"/>
<rect x="314.66" y="90.34" width="3.50" height="3.50" fill="#e8141b" stroke="none" stroke-width="1"/>
<polygon points="318.94,87.91 322.54,87.91 320.74,91.15" fill="#17722f"/>
<polygon points="318.94,93.16 322.54,93.16 320.74,89.92" fill="#1a2688"/>
<circle cx="320.74" cy="90.44" r="2.00" fill="#c0182a" stroke="#161616" stroke-width="1.0"/>
<rect x="318.99" y="88.69" width="3.50" height="3.50" fill="#e8141b" stroke="none" stroke-width="1"/>
<polygon points="323.27,86.81 326.87,86.81 325.07,90.05" fill="#17722f"/>
<polygon points="323.27,92.06 326.87,92.06 325.07,88.82" fill="#1a2688"/>
<circle cx="325.07" cy="89.35" r="2.00" fill="#c0182a" stroke="#161616" stroke-width="1.0"/>
<rect x="323.32" y="87.60" width="3.50" height="3.50" fill="#e8141b" stroke="none" stroke-width="1"/>
<polygon points="327.60,83.34 331.20,83.34 329.40,86.58" fill="#17722f"/>
<polygon points="327.60,88.59 331.20,88.59 329.40,85.35" fill="#1a2688"/>
<circle cx="329.40" cy="85.88" r="2.00" fill="#c0182a" stroke="#161616" stroke-width="1.0"/>
<rect x="327.65" y="84.13" width="3.50" height="3.50" fill="#e8141b" stroke="none" stroke-width="1"/>
<polygon points="331.93,79.87 335.53,79.87 333.73,83.11" fill="#17722f"/>
<polygon points="331.93,85.12 335.53,85.12 333.73,81.88" fill="#1a2688"/>
<circle cx="333.73" cy="82.41" r="2.00" fill="#c0182a" stroke="#161616" stroke-width="1.0"/>
<rect x="331.98" y="80.66" width="3.50" height="3.50" fill="#e8141b" stroke="none" stroke-width="1"/>
<polygon points="336.26,79.14 339.86,79.14 338.06,82.38" fill="#17722f"/>
<polygon points="336.26,84.39 339.86,84.39 338.06,81.15" fill="#1a2688"/>
<circle cx="338.06" cy="81.67" r="2.00" fill="#c0182a" stroke="#161616" stroke-width="1.0"/>
<rect x="336.31" y="79.92" width="3.50" height="3.50" fill="#e8141b" stroke="none" stroke-width="1"/>
<polygon points="340.59,76.95 344.19,76.95 342.39,80.19" fill="#17722f"/>
<polygon points="340.59,82.20 344.19,82.20 342.39,78.96" fill="#1a2688"/>
<circle cx="342.39" cy="79.48" r="2.00" fill="#c0182a" stroke="#161616" stroke-width="1.0"/>
<rect x="340.64" y="77.73" width="3.50" height="3.50" fill="#e8141b" stroke="none" stroke-width="1"/>
<polygon points="344.92,74.57 348.52,74.57 346.72,77.81" fill="#17722f"/>
<polygon points="344.92,79.82 348.52,79.82 346.72,76.58" fill="#1a2688"/>
<circle cx="346.72" cy="77.11" r="2.00" fill="#c0182a" stroke="#161616" stroke-width="1.0"/>
<rect x="344.97" y="75.36" width="3.50" height="3.50" fill="#e8141b" stroke="none" stroke-width="1"/>
<polygon points="349.25,73.84 352.85,73.84 351.05,77.08" fill="#17722f"/>
<polygon points="349.25,79.09 352.85,79.09 351.05,75.85" fill="#1a2688"/>
<circle cx="351.05" cy="76.38" r="2.00" fill="#c0182a" stroke="#161616" stroke-width="1.0"/>
<rect x="349.30" y="74.63" width="3.50" height="3.50" fill="#e8141b" stroke="none" stroke-width="1"/>
<polygon points="353.58,72.56 357.18,72.56 355.38,75.80" fill="#17722f"/>
<polygon points="353.58,77.81 357.18,77.81 355.38,74.57" fill="#1a2688"/>
<circle cx="355.38" cy="75.10" r="2.00" fill="#c0182a" stroke="#161616" stroke-width="1.0"/>
<rect x="353.63" y="73.35" width="3.50" height="3.50" fill="#e8141b" stroke="none" stroke-width="1"/>
<polygon points="357.91,70.37 361.51,70.37 359.71,73.61" fill="#17722f"/>
<polygon points="357.91,75.62 361.51,75.62 359.71,72.38" fill="#1a2688"/>
<circle cx="359.71" cy="72.90" r="2.00" fill="#c0182a" stroke="#161616" stroke-width="1.0"/>
<rect x="357.96" y="71.15" width="3.50" height="3.50" fill="#e8141b" stroke="none" stroke-width="1"/>
<polygon points="362.24,68.73 365.84,68.73 364.04,71.97" fill="#17722f"/>
<polygon points="362.24,73.98 365.84,73.98 364.04,70.74" fill="#1a2688"/>
<circle cx="364.04" cy="71.26" r="2.00" fill="#c0182a" stroke="#161616" stroke-width="1.0"/>
<rect x="362.29" y="69.51" width="3.50" height="3.50" fill="#e8141b" stroke="none" stroke-width="1"/>
<polygon points="366.57,65.99 370.17,65.99 368.37,69.23" fill="#17722f"/>
<polygon points="366.57,71.24 370.17,71.24 368.37,68.00" fill="#1a2688"/>
<circle cx="368.37" cy="68.52" r="2.00" fill="#c0182a" stroke="#161616" stroke-width="1.0"/>
<rect x="366.62" y="66.77" width="3.50" height="3.50" fill="#e8141b" stroke="none" stroke-width="1"/>
<polygon points="370.90,63.79 374.50,63.79 372.70,67.03" fill="#17722f"/>
<polygon points="370.90,69.04 374.50,69.04 372.70,65.80" fill="#1a2688"/>
<circle cx="372.70" cy="66.33" r="2.00" fill="#c0182a" stroke="#161616" stroke-width="1.0"/>
<rect x="370.95" y="64.58" width="3.50" height="3.50" fill="#e8141b" stroke="none" stroke-width="1"/>
<polygon points="375.23,61.60 378.83,61.60 377.03,64.84" fill="#17722f"/>
<polygon points="375.23,66.85 378.83,66.85 377.03,63.61" fill="#1a2688"/>
<circle cx="377.03" cy="64.14" r="2.00" fill="#c0182a" stroke="#161616" stroke-width="1.0"/>
<rect x="375.28" y="62.39" width="3.50" height="3.50" fill="#e8141b" stroke="none" stroke-width="1"/>
<polygon points="379.56,59.41 383.16,59.41 381.36,62.65" fill="#17722f"/>
<polygon points="379.56,64.66 383.16,64.66 381.36,61.42" fill="#1a2688"/>
<circle cx="381.36" cy="61.94" r="2.00" fill="#c0182a" stroke="#161616" stroke-width="1.0"/>
<rect x="379.61" y="60.19" width="3.50" height="3.50" fill="#e8141b" stroke="none" stroke-width="1"/>
<polygon points="383.89,56.85 387.49,56.85 385.69,60.09" fill="#17722f"/>
<polygon points="383.89,62.10 387.49,62.10 385.69,58.86" fill="#1a2688"/>
<circle cx="385.69" cy="59.38" r="2.00" fill="#c0182a" stroke="#161616" stroke-width="1.0"/>
<rect x="383.94" y="57.63" width="3.50" height="3.50" fill="#e8141b" stroke="none" stroke-width="1"/>
<polygon points="388.22,55.02 391.82,55.02 390.02,58.26" fill="#17722f"/>
<polygon points="388.22,60.27 391.82,60.27 390.02,57.03" fill="#1a2688"/>
<circle cx="390.02" cy="57.56" r="2.00" fill="#c0182a" stroke="#161616" stroke-width="1.0"/>
<rect x="388.27" y="55.81" width="3.50" height="3.50" fill="#e8141b" stroke="none" stroke-width="1"/>
<polygon points="392.55,53.20 396.15,53.20 394.35,56.44" fill="#17722f"/>
<polygon points="392.55,58.45 396.15,58.45 394.35,55.21" fill="#1a2688"/>
<circle cx="394.35" cy="55.73" r="2.00" fill="#c0182a" stroke="#161616" stroke-width="1.0"/>
<rect x="392.60" y="53.98" width="3.50" height="3.50" fill="#e8141b" stroke="none" stroke-width="1"/>
<polygon points="396.88,51.55 400.48,51.55 398.68,54.79" fill="#17722f"/>
<polygon points="396.88,56.80 400.48,56.80 398.68,53.56" fill="#1a2688"/>
<circle cx="398.68" cy="54.09" r="2.00" fill="#c0182a" stroke="#161616" stroke-width="1.0"/>
<rect x="396.93" y="52.34" width="3.50" height="3.50" fill="#e8141b" stroke="none" stroke-width="1"/>
<polygon points="401.21,49.73 404.81,49.73 403.01,52.97" fill="#17722f"/>
<polygon points="401.21,54.98 404.81,54.98 403.01,51.74" fill="#1a2688"/>
<circle cx="403.01" cy="52.26" r="2.00" fill="#c0182a" stroke="#161616" stroke-width="1.0"/>
<rect x="401.26" y="50.51" width="3.50" height="3.50" fill="#e8141b" stroke="none" stroke-width="1"/>
<polygon points="405.54,48.45 409.14,48.45 407.34,51.69" fill="#17722f"/>
<polygon points="405.54,53.70 409.14,53.70 407.34,50.46" fill="#1a2688"/>
<circle cx="407.34" cy="50.98" r="2.00" fill="#c0182a" stroke="#161616" stroke-width="1.0"/>
<rect x="405.59" y="49.23" width="3.50" height="3.50" fill="#e8141b" stroke="none" stroke-width="1"/>
<polygon points="409.87,46.99 413.47,46.99 411.67,50.23" fill="#17722f"/>
<polygon points="409.87,52.24 413.47,52.24 411.67,49.00" fill="#1a2688"/>
<circle cx="411.67" cy="49.52" r="2.00" fill="#c0182a" stroke="#161616" stroke-width="1.0"/>
<rect x="409.92" y="47.77" width="3.50" height="3.50" fill="#e8141b" stroke="none" stroke-width="1"/>
<polygon points="414.20,45.34 417.80,45.34 416.00,48.58" fill="#17722f"/>
<polygon points="414.20,50.59 417.80,50.59 416.00,47.35" fill="#1a2688"/>
<circle cx="416.00" cy="47.87" r="2.00" fill="#c0182a" stroke="#161616" stroke-width="1.0"/>
<rect x="414.25" y="50.51" width="3.50" height="3.50" fill="#e8141b" stroke="none" stroke-width="1"/>
<circle cx="294.00" cy="40.60" r="1.90" fill="#fff" stroke="#111" stroke-width="1.1"/>
<text x="303.80" y="42.50" font-size="5.8" text-anchor="start" font-weight="normal" fill="#555" textLength="6.4" lengthAdjust="spacingAndGlyphs" >Ctrl</text>
<rect x="292.10" y="50.10" width="3.80" height="3.80" fill="#e8141b" stroke="none" stroke-width="1"/>
<text x="303.80" y="53.90" font-size="5.8" text-anchor="start" font-weight="normal" fill="#555" textLength="10.6" lengthAdjust="spacingAndGlyphs" >OMV</text>
<polygon points="292.20,64.82 295.80,64.82 294.00,61.58" fill="#1f2f9a"/>
<text x="303.80" y="65.10" font-size="5.8" text-anchor="start" font-weight="normal" fill="#555" textLength="8.0" lengthAdjust="spacingAndGlyphs" >Res</text>
<polygon points="292.20,72.78 295.80,72.78 294.00,76.02" fill="#1f8a3a"/>
<text x="303.80" y="76.30" font-size="5.8" text-anchor="start" font-weight="normal" fill="#555" textLength="22.6" lengthAdjust="spacingAndGlyphs" >Res+OMV</text>
<rect x="512.3" y="28.6" width="169.0" height="115.1" fill="none" stroke="#111" stroke-width="1.3"/>
<line x1="507.70" y1="143.60" x2="512.30" y2="143.60" stroke="#111" stroke-width="1.15"/>
<text x="507.10" y="146.40" font-size="8.0" text-anchor="end" font-weight="normal" fill="#222" textLength="8.6" lengthAdjust="spacingAndGlyphs" stroke="#222" stroke-width="0.22">1.0</text>
<line x1="509.50" y1="135.93" x2="512.30" y2="135.93" stroke="#111" stroke-width="1.0"/>
<line x1="509.50" y1="128.27" x2="512.30" y2="128.27" stroke="#111" stroke-width="1.0"/>
<line x1="509.50" y1="120.60" x2="512.30" y2="120.60" stroke="#111" stroke-width="1.0"/>
<line x1="509.50" y1="112.93" x2="512.30" y2="112.93" stroke="#111" stroke-width="1.0"/>
<line x1="507.70" y1="105.26" x2="512.30" y2="105.26" stroke="#111" stroke-width="1.15"/>
<text x="507.10" y="108.06" font-size="8.0" text-anchor="end" font-weight="normal" fill="#222" textLength="8.6" lengthAdjust="spacingAndGlyphs" stroke="#222" stroke-width="0.22">1.5</text>
<line x1="509.50" y1="97.60" x2="512.30" y2="97.60" stroke="#111" stroke-width="1.0"/>
<line x1="509.50" y1="89.93" x2="512.30" y2="89.93" stroke="#111" stroke-width="1.0"/>
<line x1="509.50" y1="82.26" x2="512.30" y2="82.26" stroke="#111" stroke-width="1.0"/>
<line x1="509.50" y1="74.60" x2="512.30" y2="74.60" stroke="#111" stroke-width="1.0"/>
<line x1="507.70" y1="66.93" x2="512.30" y2="66.93" stroke="#111" stroke-width="1.15"/>
<text x="507.10" y="69.73" font-size="8.0" text-anchor="end" font-weight="normal" fill="#222" textLength="8.6" lengthAdjust="spacingAndGlyphs" stroke="#222" stroke-width="0.22">2.0</text>
<line x1="509.50" y1="59.26" x2="512.30" y2="59.26" stroke="#111" stroke-width="1.0"/>
<line x1="509.50" y1="51.60" x2="512.30" y2="51.60" stroke="#111" stroke-width="1.0"/>
<line x1="509.50" y1="43.93" x2="512.30" y2="43.93" stroke="#111" stroke-width="1.0"/>
<line x1="509.50" y1="36.26" x2="512.30" y2="36.26" stroke="#111" stroke-width="1.0"/>
<line x1="507.70" y1="28.59" x2="512.30" y2="28.59" stroke="#111" stroke-width="1.15"/>
<text x="507.10" y="31.39" font-size="8.0" text-anchor="end" font-weight="normal" fill="#222" textLength="8.6" lengthAdjust="spacingAndGlyphs" stroke="#222" stroke-width="0.22">2.5</text>
<line x1="512.30" y1="143.70" x2="512.30" y2="148.80" stroke="#111" stroke-width="1.15"/>
<text x="512.10" y="158.50" font-size="7.6" text-anchor="middle" font-weight="normal" fill="#222" textLength="9.0" lengthAdjust="spacingAndGlyphs" stroke="#222" stroke-width="0.22">-10</text>
<line x1="520.74" y1="143.70" x2="520.74" y2="146.50" stroke="#111" stroke-width="1.0"/>
<line x1="529.18" y1="143.70" x2="529.18" y2="146.50" stroke="#111" stroke-width="1.0"/>
<line x1="537.62" y1="143.70" x2="537.62" y2="146.50" stroke="#111" stroke-width="1.0"/>
<line x1="546.06" y1="143.70" x2="546.06" y2="146.50" stroke="#111" stroke-width="1.0"/>
<line x1="554.50" y1="143.70" x2="554.50" y2="148.80" stroke="#111" stroke-width="1.15"/>
<text x="554.30" y="158.50" font-size="7.6" text-anchor="middle" font-weight="normal" fill="#222" textLength="3.6" lengthAdjust="spacingAndGlyphs" stroke="#222" stroke-width="0.22">0</text>
<line x1="562.94" y1="143.70" x2="562.94" y2="146.50" stroke="#111" stroke-width="1.0"/>
<line x1="571.38" y1="143.70" x2="571.38" y2="146.50" stroke="#111" stroke-width="1.0"/>
<line x1="579.82" y1="143.70" x2="579.82" y2="146.50" stroke="#111" stroke-width="1.0"/>
<line x1="588.26" y1="143.70" x2="588.26" y2="146.50" stroke="#111" stroke-width="1.0"/>
<line x1="596.70" y1="143.70" x2="596.70" y2="148.80" stroke="#111" stroke-width="1.15"/>
<text x="596.50" y="158.50" font-size="7.6" text-anchor="middle" font-weight="normal" fill="#222" textLength="7.0" lengthAdjust="spacingAndGlyphs" stroke="#222" stroke-width="0.22">10</text>
<line x1="605.14" y1="143.70" x2="605.14" y2="146.50" stroke="#111" stroke-width="1.0"/>
<line x1="613.58" y1="143.70" x2="613.58" y2="146.50" stroke="#111" stroke-width="1.0"/>
<line x1="622.02" y1="143.70" x2="622.02" y2="146.50" stroke="#111" stroke-width="1.0"/>
<line x1="630.46" y1="143.70" x2="630.46" y2="146.50" stroke="#111" stroke-width="1.0"/>
<line x1="638.90" y1="143.70" x2="638.90" y2="148.80" stroke="#111" stroke-width="1.15"/>
<text x="638.70" y="158.50" font-size="7.6" text-anchor="middle" font-weight="normal" fill="#222" textLength="7.0" lengthAdjust="spacingAndGlyphs" stroke="#222" stroke-width="0.22">20</text>
<line x1="647.34" y1="143.70" x2="647.34" y2="146.50" stroke="#111" stroke-width="1.0"/>
<line x1="655.78" y1="143.70" x2="655.78" y2="146.50" stroke="#111" stroke-width="1.0"/>
<line x1="664.22" y1="143.70" x2="664.22" y2="146.50" stroke="#111" stroke-width="1.0"/>
<line x1="672.66" y1="143.70" x2="672.66" y2="146.50" stroke="#111" stroke-width="1.0"/>
<line x1="681.10" y1="143.70" x2="681.10" y2="148.80" stroke="#111" stroke-width="1.15"/>
<text x="680.90" y="158.50" font-size="7.6" text-anchor="middle" font-weight="normal" fill="#222" textLength="7.0" lengthAdjust="spacingAndGlyphs" stroke="#222" stroke-width="0.22">30</text>
<text x="575.90" y="173.80" font-size="9.0" text-anchor="start" font-weight="normal" fill="#222" textLength="17.8" lengthAdjust="spacingAndGlyphs" stroke="#222" stroke-width="0.25">Time</text>
<text x="595.00" y="173.60" font-size="8.549999999999999" text-anchor="start" font-weight="normal" fill="#333" >(</text>
<text x="600.00" y="173.80" font-size="9.0" text-anchor="start" font-weight="normal" fill="#222" textLength="14.2" lengthAdjust="spacingAndGlyphs" stroke="#222" stroke-width="0.25">day</text>
<text x="614.80" y="173.60" font-size="8.549999999999999" text-anchor="start" font-weight="normal" fill="#333" >)</text>
<text transform="translate(494.00,86.05) rotate(-90)" x="0" y="0" font-size="6.6" text-anchor="middle" font-weight="bold" fill="#222" textLength="43.3" lengthAdjust="spacingAndGlyphs" stroke="#222" stroke-width="0.3">weight(g)</text>
<line x1="537.62" y1="104.65" x2="537.62" y2="116.15" stroke="#1f8a3a" stroke-width="0.6"/>
<line x1="535.72" y1="104.65" x2="539.52" y2="104.65" stroke="#1f8a3a" stroke-width="0.75"/>
<line x1="535.72" y1="116.15" x2="539.52" y2="116.15" stroke="#1f8a3a" stroke-width="0.75"/>
<line x1="537.62" y1="109.25" x2="537.62" y2="120.75" stroke="#1f2f9a" stroke-width="0.6"/>
<line x1="535.72" y1="109.25" x2="539.52" y2="109.25" stroke="#1f2f9a" stroke-width="0.75"/>
<line x1="535.72" y1="120.75" x2="539.52" y2="120.75" stroke="#1f2f9a" stroke-width="0.75"/>
<line x1="537.62" y1="102.58" x2="537.62" y2="114.08" stroke="#e23a3a" stroke-width="0.6"/>
<line x1="535.72" y1="102.58" x2="539.52" y2="102.58" stroke="#e23a3a" stroke-width="0.75"/>
<line x1="535.72" y1="114.08" x2="539.52" y2="114.08" stroke="#e23a3a" stroke-width="0.75"/>
<line x1="537.62" y1="106.95" x2="537.62" y2="118.45" stroke="#222" stroke-width="0.6"/>
<line x1="535.72" y1="106.95" x2="539.52" y2="106.95" stroke="#222" stroke-width="0.75"/>
<line x1="535.72" y1="118.45" x2="539.52" y2="118.45" stroke="#222" stroke-width="0.75"/>
<line x1="541.84" y1="89.93" x2="541.84" y2="109.87" stroke="#1f8a3a" stroke-width="0.6"/>
<line x1="539.94" y1="89.93" x2="543.74" y2="89.93" stroke="#1f8a3a" stroke-width="0.75"/>
<line x1="539.94" y1="109.87" x2="543.74" y2="109.87" stroke="#1f8a3a" stroke-width="0.75"/>
<line x1="541.84" y1="111.78" x2="541.84" y2="117.15" stroke="#1f2f9a" stroke-width="0.6"/>
<line x1="539.94" y1="111.78" x2="543.74" y2="111.78" stroke="#1f2f9a" stroke-width="0.75"/>
<line x1="539.94" y1="117.15" x2="543.74" y2="117.15" stroke="#1f2f9a" stroke-width="0.75"/>
<line x1="541.84" y1="108.72" x2="541.84" y2="114.08" stroke="#e23a3a" stroke-width="0.6"/>
<line x1="539.94" y1="108.72" x2="543.74" y2="108.72" stroke="#e23a3a" stroke-width="0.75"/>
<line x1="539.94" y1="114.08" x2="543.74" y2="114.08" stroke="#e23a3a" stroke-width="0.75"/>
<line x1="541.84" y1="115.31" x2="541.84" y2="120.68" stroke="#222" stroke-width="0.6"/>
<line x1="539.94" y1="115.31" x2="543.74" y2="115.31" stroke="#222" stroke-width="0.75"/>
<line x1="539.94" y1="120.68" x2="543.74" y2="120.68" stroke="#222" stroke-width="0.75"/>
<line x1="546.06" y1="97.21" x2="546.06" y2="105.65" stroke="#1f8a3a" stroke-width="0.6"/>
<line x1="544.16" y1="97.21" x2="547.96" y2="97.21" stroke="#1f8a3a" stroke-width="0.75"/>
<line x1="544.16" y1="105.65" x2="547.96" y2="105.65" stroke="#1f8a3a" stroke-width="0.75"/>
<line x1="546.06" y1="110.25" x2="546.06" y2="118.68" stroke="#1f2f9a" stroke-width="0.6"/>
<line x1="544.16" y1="110.25" x2="547.96" y2="110.25" stroke="#1f2f9a" stroke-width="0.75"/>
<line x1="544.16" y1="118.68" x2="547.96" y2="118.68" stroke="#1f2f9a" stroke-width="0.75"/>
<line x1="546.06" y1="94.53" x2="546.06" y2="111.40" stroke="#e23a3a" stroke-width="0.6"/>
<line x1="544.16" y1="94.53" x2="547.96" y2="94.53" stroke="#e23a3a" stroke-width="0.75"/>
<line x1="544.16" y1="111.40" x2="547.96" y2="111.40" stroke="#e23a3a" stroke-width="0.75"/>
<line x1="546.06" y1="104.50" x2="546.06" y2="112.93" stroke="#222" stroke-width="0.6"/>
<line x1="544.16" y1="104.50" x2="547.96" y2="104.50" stroke="#222" stroke-width="0.75"/>
<line x1="544.16" y1="112.93" x2="547.96" y2="112.93" stroke="#222" stroke-width="0.75"/>
<line x1="550.28" y1="95.68" x2="550.28" y2="107.18" stroke="#1f8a3a" stroke-width="0.6"/>
<line x1="548.38" y1="95.68" x2="552.18" y2="95.68" stroke="#1f8a3a" stroke-width="0.75"/>
<line x1="548.38" y1="107.18" x2="552.18" y2="107.18" stroke="#1f8a3a" stroke-width="0.75"/>
<line x1="550.28" y1="101.81" x2="550.28" y2="113.32" stroke="#1f2f9a" stroke-width="0.6"/>
<line x1="548.38" y1="101.81" x2="552.18" y2="101.81" stroke="#1f2f9a" stroke-width="0.75"/>
<line x1="548.38" y1="113.32" x2="552.18" y2="113.32" stroke="#1f2f9a" stroke-width="0.75"/>
<line x1="550.28" y1="99.90" x2="550.28" y2="119.07" stroke="#e23a3a" stroke-width="0.6"/>
<line x1="548.38" y1="99.90" x2="552.18" y2="99.90" stroke="#e23a3a" stroke-width="0.75"/>
<line x1="548.38" y1="119.07" x2="552.18" y2="119.07" stroke="#e23a3a" stroke-width="0.75"/>
<line x1="550.28" y1="99.51" x2="550.28" y2="111.02" stroke="#222" stroke-width="0.6"/>
<line x1="548.38" y1="99.51" x2="552.18" y2="99.51" stroke="#222" stroke-width="0.75"/>
<line x1="548.38" y1="111.02" x2="552.18" y2="111.02" stroke="#222" stroke-width="0.75"/>
<line x1="554.50" y1="99.13" x2="554.50" y2="122.13" stroke="#1f8a3a" stroke-width="0.6"/>
<line x1="552.60" y1="99.13" x2="556.40" y2="99.13" stroke="#1f8a3a" stroke-width="0.75"/>
<line x1="552.60" y1="122.13" x2="556.40" y2="122.13" stroke="#1f8a3a" stroke-width="0.75"/>
<line x1="554.50" y1="114.93" x2="554.50" y2="120.29" stroke="#1f2f9a" stroke-width="0.6"/>
<line x1="552.60" y1="114.93" x2="556.40" y2="114.93" stroke="#1f2f9a" stroke-width="0.75"/>
<line x1="552.60" y1="120.29" x2="556.40" y2="120.29" stroke="#1f2f9a" stroke-width="0.75"/>
<line x1="554.50" y1="111.78" x2="554.50" y2="117.15" stroke="#e23a3a" stroke-width="0.6"/>
<line x1="552.60" y1="111.78" x2="556.40" y2="111.78" stroke="#e23a3a" stroke-width="0.75"/>
<line x1="552.60" y1="117.15" x2="556.40" y2="117.15" stroke="#e23a3a" stroke-width="0.75"/>
<line x1="554.50" y1="112.63" x2="554.50" y2="117.99" stroke="#222" stroke-width="0.6"/>
<line x1="552.60" y1="112.63" x2="556.40" y2="112.63" stroke="#222" stroke-width="0.75"/>
<line x1="552.60" y1="117.99" x2="556.40" y2="117.99" stroke="#222" stroke-width="0.75"/>
<line x1="558.72" y1="99.13" x2="558.72" y2="126.73" stroke="#1f8a3a" stroke-width="0.6"/>
<line x1="556.82" y1="99.13" x2="560.62" y2="99.13" stroke="#1f8a3a" stroke-width="0.75"/>
<line x1="556.82" y1="126.73" x2="560.62" y2="126.73" stroke="#1f8a3a" stroke-width="0.75"/>
<line x1="558.72" y1="109.87" x2="558.72" y2="118.30" stroke="#1f2f9a" stroke-width="0.6"/>
<line x1="556.82" y1="109.87" x2="560.62" y2="109.87" stroke="#1f2f9a" stroke-width="0.75"/>
<line x1="556.82" y1="118.30" x2="560.62" y2="118.30" stroke="#1f2f9a" stroke-width="0.75"/>
<line x1="558.72" y1="104.11" x2="558.72" y2="112.55" stroke="#e23a3a" stroke-width="0.6"/>
<line x1="556.82" y1="104.11" x2="560.62" y2="104.11" stroke="#e23a3a" stroke-width="0.75"/>
<line x1="556.82" y1="112.55" x2="560.62" y2="112.55" stroke="#e23a3a" stroke-width="0.75"/>
<line x1="558.72" y1="107.57" x2="558.72" y2="116.00" stroke="#222" stroke-width="0.6"/>
<line x1="556.82" y1="107.57" x2="560.62" y2="107.57" stroke="#222" stroke-width="0.75"/>
<line x1="556.82" y1="116.00" x2="560.62" y2="116.00" stroke="#222" stroke-width="0.75"/>
<line x1="562.94" y1="102.96" x2="562.94" y2="114.47" stroke="#1f8a3a" stroke-width="0.6"/>
<line x1="561.04" y1="102.96" x2="564.84" y2="102.96" stroke="#1f8a3a" stroke-width="0.75"/>
<line x1="561.04" y1="114.47" x2="564.84" y2="114.47" stroke="#1f8a3a" stroke-width="0.75"/>
<line x1="562.94" y1="107.57" x2="562.94" y2="119.07" stroke="#1f2f9a" stroke-width="0.6"/>
<line x1="561.04" y1="107.57" x2="564.84" y2="107.57" stroke="#1f2f9a" stroke-width="0.75"/>
<line x1="561.04" y1="119.07" x2="564.84" y2="119.07" stroke="#1f2f9a" stroke-width="0.75"/>
<line x1="562.94" y1="99.90" x2="562.94" y2="114.47" stroke="#e23a3a" stroke-width="0.6"/>
<line x1="561.04" y1="99.90" x2="564.84" y2="99.90" stroke="#e23a3a" stroke-width="0.75"/>
<line x1="561.04" y1="114.47" x2="564.84" y2="114.47" stroke="#e23a3a" stroke-width="0.75"/>
<line x1="562.94" y1="105.26" x2="562.94" y2="116.77" stroke="#222" stroke-width="0.6"/>
<line x1="561.04" y1="105.26" x2="564.84" y2="105.26" stroke="#222" stroke-width="0.75"/>
<line x1="561.04" y1="116.77" x2="564.84" y2="116.77" stroke="#222" stroke-width="0.75"/>
<line x1="567.16" y1="102.43" x2="567.16" y2="107.80" stroke="#1f8a3a" stroke-width="0.6"/>
<line x1="565.26" y1="102.43" x2="569.06" y2="102.43" stroke="#1f8a3a" stroke-width="0.75"/>
<line x1="565.26" y1="107.80" x2="569.06" y2="107.80" stroke="#1f8a3a" stroke-width="0.75"/>
<line x1="567.16" y1="107.03" x2="567.16" y2="112.40" stroke="#1f2f9a" stroke-width="0.6"/>
<line x1="565.26" y1="107.03" x2="569.06" y2="107.03" stroke="#1f2f9a" stroke-width="0.75"/>
<line x1="565.26" y1="112.40" x2="569.06" y2="112.40" stroke="#1f2f9a" stroke-width="0.75"/>
<line x1="567.16" y1="104.11" x2="567.16" y2="109.48" stroke="#e23a3a" stroke-width="0.6"/>
<line x1="565.26" y1="104.11" x2="569.06" y2="104.11" stroke="#e23a3a" stroke-width="0.75"/>
<line x1="565.26" y1="109.48" x2="569.06" y2="109.48" stroke="#e23a3a" stroke-width="0.75"/>
<line x1="567.16" y1="104.73" x2="567.16" y2="110.10" stroke="#222" stroke-width="0.6"/>
<line x1="565.26" y1="104.73" x2="569.06" y2="104.73" stroke="#222" stroke-width="0.75"/>
<line x1="565.26" y1="110.10" x2="569.06" y2="110.10" stroke="#222" stroke-width="0.75"/>
<line x1="571.38" y1="101.81" x2="571.38" y2="110.25" stroke="#1f8a3a" stroke-width="0.6"/>
<line x1="569.48" y1="101.81" x2="573.28" y2="101.81" stroke="#1f8a3a" stroke-width="0.75"/>
<line x1="569.48" y1="110.25" x2="573.28" y2="110.25" stroke="#1f8a3a" stroke-width="0.75"/>
<line x1="571.38" y1="106.42" x2="571.38" y2="114.85" stroke="#1f2f9a" stroke-width="0.6"/>
<line x1="569.48" y1="106.42" x2="573.28" y2="106.42" stroke="#1f2f9a" stroke-width="0.75"/>
<line x1="569.48" y1="114.85" x2="573.28" y2="114.85" stroke="#1f2f9a" stroke-width="0.75"/>
<line x1="571.38" y1="99.51" x2="571.38" y2="107.95" stroke="#e23a3a" stroke-width="0.6"/>
<line x1="569.48" y1="99.51" x2="573.28" y2="99.51" stroke="#e23a3a" stroke-width="0.75"/>
<line x1="569.48" y1="107.95" x2="573.28" y2="107.95" stroke="#e23a3a" stroke-width="0.75"/>
<line x1="571.38" y1="104.11" x2="571.38" y2="112.55" stroke="#222" stroke-width="0.6"/>
<line x1="569.48" y1="104.11" x2="573.28" y2="104.11" stroke="#222" stroke-width="0.75"/>
<line x1="569.48" y1="112.55" x2="573.28" y2="112.55" stroke="#222" stroke-width="0.75"/>
<line x1="575.60" y1="97.21" x2="575.60" y2="108.72" stroke="#1f8a3a" stroke-width="0.6"/>
<line x1="573.70" y1="97.21" x2="577.50" y2="97.21" stroke="#1f8a3a" stroke-width="0.75"/>
<line x1="573.70" y1="108.72" x2="577.50" y2="108.72" stroke="#1f8a3a" stroke-width="0.75"/>
<line x1="575.60" y1="101.81" x2="575.60" y2="113.32" stroke="#1f2f9a" stroke-width="0.6"/>
<line x1="573.70" y1="101.81" x2="577.50" y2="101.81" stroke="#1f2f9a" stroke-width="0.75"/>
<line x1="573.70" y1="113.32" x2="577.50" y2="113.32" stroke="#1f2f9a" stroke-width="0.75"/>
<line x1="575.60" y1="98.75" x2="575.60" y2="110.25" stroke="#e23a3a" stroke-width="0.6"/>
<line x1="573.70" y1="98.75" x2="577.50" y2="98.75" stroke="#e23a3a" stroke-width="0.75"/>
<line x1="573.70" y1="110.25" x2="577.50" y2="110.25" stroke="#e23a3a" stroke-width="0.75"/>
<line x1="575.60" y1="99.51" x2="575.60" y2="111.02" stroke="#222" stroke-width="0.6"/>
<line x1="573.70" y1="99.51" x2="577.50" y2="99.51" stroke="#222" stroke-width="0.75"/>
<line x1="573.70" y1="111.02" x2="577.50" y2="111.02" stroke="#222" stroke-width="0.75"/>
<line x1="579.82" y1="100.28" x2="579.82" y2="105.65" stroke="#1f8a3a" stroke-width="0.6"/>
<line x1="577.92" y1="100.28" x2="581.72" y2="100.28" stroke="#1f8a3a" stroke-width="0.75"/>
<line x1="577.92" y1="105.65" x2="581.72" y2="105.65" stroke="#1f8a3a" stroke-width="0.75"/>
<line x1="579.82" y1="104.88" x2="579.82" y2="110.25" stroke="#1f2f9a" stroke-width="0.6"/>
<line x1="577.92" y1="104.88" x2="581.72" y2="104.88" stroke="#1f2f9a" stroke-width="0.75"/>
<line x1="577.92" y1="110.25" x2="581.72" y2="110.25" stroke="#1f2f9a" stroke-width="0.75"/>
<line x1="579.82" y1="101.05" x2="579.82" y2="106.42" stroke="#e23a3a" stroke-width="0.6"/>
<line x1="577.92" y1="101.05" x2="581.72" y2="101.05" stroke="#e23a3a" stroke-width="0.75"/>
<line x1="577.92" y1="106.42" x2="581.72" y2="106.42" stroke="#e23a3a" stroke-width="0.75"/>
<line x1="579.82" y1="102.58" x2="579.82" y2="107.95" stroke="#222" stroke-width="0.6"/>
<line x1="577.92" y1="102.58" x2="581.72" y2="102.58" stroke="#222" stroke-width="0.75"/>
<line x1="577.92" y1="107.95" x2="581.72" y2="107.95" stroke="#222" stroke-width="0.75"/>
<line x1="584.04" y1="98.36" x2="584.04" y2="106.80" stroke="#1f8a3a" stroke-width="0.6"/>
<line x1="582.14" y1="98.36" x2="585.94" y2="98.36" stroke="#1f8a3a" stroke-width="0.75"/>
<line x1="582.14" y1="106.80" x2="585.94" y2="106.80" stroke="#1f8a3a" stroke-width="0.75"/>
<line x1="584.04" y1="102.96" x2="584.04" y2="111.40" stroke="#1f2f9a" stroke-width="0.6"/>
<line x1="582.14" y1="102.96" x2="585.94" y2="102.96" stroke="#1f2f9a" stroke-width="0.75"/>
<line x1="582.14" y1="111.40" x2="585.94" y2="111.40" stroke="#1f2f9a" stroke-width="0.75"/>
<line x1="584.04" y1="101.81" x2="584.04" y2="110.25" stroke="#e23a3a" stroke-width="0.6"/>
<line x1="582.14" y1="101.81" x2="585.94" y2="101.81" stroke="#e23a3a" stroke-width="0.75"/>
<line x1="582.14" y1="110.25" x2="585.94" y2="110.25" stroke="#e23a3a" stroke-width="0.75"/>
<line x1="584.04" y1="100.66" x2="584.04" y2="109.10" stroke="#222" stroke-width="0.6"/>
<line x1="582.14" y1="100.66" x2="585.94" y2="100.66" stroke="#222" stroke-width="0.75"/>
<line x1="582.14" y1="109.10" x2="585.94" y2="109.10" stroke="#222" stroke-width="0.75"/>
<line x1="588.26" y1="92.23" x2="588.26" y2="103.73" stroke="#1f8a3a" stroke-width="0.6"/>
<line x1="586.36" y1="92.23" x2="590.16" y2="92.23" stroke="#1f8a3a" stroke-width="0.75"/>
<line x1="586.36" y1="103.73" x2="590.16" y2="103.73" stroke="#1f8a3a" stroke-width="0.75"/>
<line x1="588.26" y1="96.83" x2="588.26" y2="108.33" stroke="#1f2f9a" stroke-width="0.6"/>
<line x1="586.36" y1="96.83" x2="590.16" y2="96.83" stroke="#1f2f9a" stroke-width="0.75"/>
<line x1="586.36" y1="108.33" x2="590.16" y2="108.33" stroke="#1f2f9a" stroke-width="0.75"/>
<line x1="588.26" y1="92.61" x2="588.26" y2="104.11" stroke="#e23a3a" stroke-width="0.6"/>
<line x1="586.36" y1="92.61" x2="590.16" y2="92.61" stroke="#e23a3a" stroke-width="0.75"/>
<line x1="586.36" y1="104.11" x2="590.16" y2="104.11" stroke="#e23a3a" stroke-width="0.75"/>
<line x1="588.26" y1="94.53" x2="588.26" y2="106.03" stroke="#222" stroke-width="0.6"/>
<line x1="586.36" y1="94.53" x2="590.16" y2="94.53" stroke="#222" stroke-width="0.75"/>
<line x1="586.36" y1="106.03" x2="590.16" y2="106.03" stroke="#222" stroke-width="0.75"/>
<line x1="592.48" y1="95.99" x2="592.48" y2="101.35" stroke="#1f8a3a" stroke-width="0.6"/>
<line x1="590.58" y1="95.99" x2="594.38" y2="95.99" stroke="#1f8a3a" stroke-width="0.75"/>
<line x1="590.58" y1="101.35" x2="594.38" y2="101.35" stroke="#1f8a3a" stroke-width="0.75"/>
<line x1="592.48" y1="100.59" x2="592.48" y2="105.96" stroke="#1f2f9a" stroke-width="0.6"/>
<line x1="590.58" y1="100.59" x2="594.38" y2="100.59" stroke="#1f2f9a" stroke-width="0.75"/>
<line x1="590.58" y1="105.96" x2="594.38" y2="105.96" stroke="#1f2f9a" stroke-width="0.75"/>
<line x1="592.48" y1="94.91" x2="592.48" y2="100.28" stroke="#e23a3a" stroke-width="0.6"/>
<line x1="590.58" y1="94.91" x2="594.38" y2="94.91" stroke="#e23a3a" stroke-width="0.75"/>
<line x1="590.58" y1="100.28" x2="594.38" y2="100.28" stroke="#e23a3a" stroke-width="0.75"/>
<line x1="592.48" y1="98.29" x2="592.48" y2="103.65" stroke="#222" stroke-width="0.6"/>
<line x1="590.58" y1="98.29" x2="594.38" y2="98.29" stroke="#222" stroke-width="0.75"/>
<line x1="590.58" y1="103.65" x2="594.38" y2="103.65" stroke="#222" stroke-width="0.75"/>
<line x1="596.70" y1="85.33" x2="596.70" y2="91.46" stroke="#1f8a3a" stroke-width="0.6"/>
<line x1="594.80" y1="85.33" x2="598.60" y2="85.33" stroke="#1f8a3a" stroke-width="0.75"/>
<line x1="594.80" y1="91.46" x2="598.60" y2="91.46" stroke="#1f8a3a" stroke-width="0.75"/>
<line x1="596.70" y1="94.45" x2="596.70" y2="102.89" stroke="#1f2f9a" stroke-width="0.6"/>
<line x1="594.80" y1="94.45" x2="598.60" y2="94.45" stroke="#1f2f9a" stroke-width="0.75"/>
<line x1="594.80" y1="102.89" x2="598.60" y2="102.89" stroke="#1f2f9a" stroke-width="0.75"/>
<line x1="596.70" y1="93.38" x2="596.70" y2="101.81" stroke="#e23a3a" stroke-width="0.6"/>
<line x1="594.80" y1="93.38" x2="598.60" y2="93.38" stroke="#e23a3a" stroke-width="0.75"/>
<line x1="594.80" y1="101.81" x2="598.60" y2="101.81" stroke="#e23a3a" stroke-width="0.75"/>
<line x1="596.70" y1="92.15" x2="596.70" y2="100.59" stroke="#222" stroke-width="0.6"/>
<line x1="594.80" y1="92.15" x2="598.60" y2="92.15" stroke="#222" stroke-width="0.75"/>
<line x1="594.80" y1="100.59" x2="598.60" y2="100.59" stroke="#222" stroke-width="0.75"/>
<line x1="600.92" y1="87.25" x2="600.92" y2="98.75" stroke="#1f8a3a" stroke-width="0.6"/>
<line x1="599.02" y1="87.25" x2="602.82" y2="87.25" stroke="#1f8a3a" stroke-width="0.75"/>
<line x1="599.02" y1="98.75" x2="602.82" y2="98.75" stroke="#1f8a3a" stroke-width="0.75"/>
<line x1="600.92" y1="80.73" x2="600.92" y2="93.00" stroke="#1f2f9a" stroke-width="0.6"/>
<line x1="599.02" y1="80.73" x2="602.82" y2="80.73" stroke="#1f2f9a" stroke-width="0.75"/>
<line x1="599.02" y1="93.00" x2="602.82" y2="93.00" stroke="#1f2f9a" stroke-width="0.75"/>
<line x1="600.92" y1="84.95" x2="600.92" y2="96.45" stroke="#e23a3a" stroke-width="0.6"/>
<line x1="599.02" y1="84.95" x2="602.82" y2="84.95" stroke="#e23a3a" stroke-width="0.75"/>
<line x1="599.02" y1="96.45" x2="602.82" y2="96.45" stroke="#e23a3a" stroke-width="0.75"/>
<line x1="600.92" y1="88.24" x2="600.92" y2="99.74" stroke="#222" stroke-width="0.6"/>
<line x1="599.02" y1="88.24" x2="602.82" y2="88.24" stroke="#222" stroke-width="0.75"/>
<line x1="599.02" y1="99.74" x2="602.82" y2="99.74" stroke="#222" stroke-width="0.75"/>
<line x1="605.14" y1="84.03" x2="605.14" y2="89.39" stroke="#1f8a3a" stroke-width="0.6"/>
<line x1="603.24" y1="84.03" x2="607.04" y2="84.03" stroke="#1f8a3a" stroke-width="0.75"/>
<line x1="603.24" y1="89.39" x2="607.04" y2="89.39" stroke="#1f8a3a" stroke-width="0.75"/>
<line x1="605.14" y1="88.63" x2="605.14" y2="93.99" stroke="#1f2f9a" stroke-width="0.6"/>
<line x1="603.24" y1="88.63" x2="607.04" y2="88.63" stroke="#1f2f9a" stroke-width="0.75"/>
<line x1="603.24" y1="93.99" x2="607.04" y2="93.99" stroke="#1f2f9a" stroke-width="0.75"/>
<line x1="605.14" y1="86.48" x2="605.14" y2="91.85" stroke="#e23a3a" stroke-width="0.6"/>
<line x1="603.24" y1="86.48" x2="607.04" y2="86.48" stroke="#e23a3a" stroke-width="0.75"/>
<line x1="603.24" y1="91.85" x2="607.04" y2="91.85" stroke="#e23a3a" stroke-width="0.75"/>
<line x1="605.14" y1="86.33" x2="605.14" y2="91.69" stroke="#222" stroke-width="0.6"/>
<line x1="603.24" y1="86.33" x2="607.04" y2="86.33" stroke="#222" stroke-width="0.75"/>
<line x1="603.24" y1="91.69" x2="607.04" y2="91.69" stroke="#222" stroke-width="0.75"/>
<line x1="609.36" y1="81.11" x2="609.36" y2="89.55" stroke="#1f8a3a" stroke-width="0.6"/>
<line x1="607.46" y1="81.11" x2="611.26" y2="81.11" stroke="#1f8a3a" stroke-width="0.75"/>
<line x1="607.46" y1="89.55" x2="611.26" y2="89.55" stroke="#1f8a3a" stroke-width="0.75"/>
<line x1="609.36" y1="85.71" x2="609.36" y2="94.15" stroke="#1f2f9a" stroke-width="0.6"/>
<line x1="607.46" y1="85.71" x2="611.26" y2="85.71" stroke="#1f2f9a" stroke-width="0.75"/>
<line x1="607.46" y1="94.15" x2="611.26" y2="94.15" stroke="#1f2f9a" stroke-width="0.75"/>
<line x1="609.36" y1="82.65" x2="609.36" y2="91.08" stroke="#e23a3a" stroke-width="0.6"/>
<line x1="607.46" y1="82.65" x2="611.26" y2="82.65" stroke="#e23a3a" stroke-width="0.75"/>
<line x1="607.46" y1="91.08" x2="611.26" y2="91.08" stroke="#e23a3a" stroke-width="0.75"/>
<line x1="609.36" y1="83.41" x2="609.36" y2="91.85" stroke="#222" stroke-width="0.6"/>
<line x1="607.46" y1="83.41" x2="611.26" y2="83.41" stroke="#222" stroke-width="0.75"/>
<line x1="607.46" y1="91.85" x2="611.26" y2="91.85" stroke="#222" stroke-width="0.75"/>
<line x1="613.58" y1="74.21" x2="613.58" y2="85.71" stroke="#1f8a3a" stroke-width="0.6"/>
<line x1="611.68" y1="74.21" x2="615.48" y2="74.21" stroke="#1f8a3a" stroke-width="0.75"/>
<line x1="611.68" y1="85.71" x2="615.48" y2="85.71" stroke="#1f8a3a" stroke-width="0.75"/>
<line x1="613.58" y1="78.81" x2="613.58" y2="90.31" stroke="#1f2f9a" stroke-width="0.6"/>
<line x1="611.68" y1="78.81" x2="615.48" y2="78.81" stroke="#1f2f9a" stroke-width="0.75"/>
<line x1="611.68" y1="90.31" x2="615.48" y2="90.31" stroke="#1f2f9a" stroke-width="0.75"/>
<line x1="613.58" y1="74.98" x2="613.58" y2="86.48" stroke="#e23a3a" stroke-width="0.6"/>
<line x1="611.68" y1="74.98" x2="615.48" y2="74.98" stroke="#e23a3a" stroke-width="0.75"/>
<line x1="611.68" y1="86.48" x2="615.48" y2="86.48" stroke="#e23a3a" stroke-width="0.75"/>
<line x1="613.58" y1="76.51" x2="613.58" y2="88.01" stroke="#222" stroke-width="0.6"/>
<line x1="611.68" y1="76.51" x2="615.48" y2="76.51" stroke="#222" stroke-width="0.75"/>
<line x1="611.68" y1="88.01" x2="615.48" y2="88.01" stroke="#222" stroke-width="0.75"/>
<line x1="617.80" y1="72.14" x2="617.80" y2="77.51" stroke="#1f8a3a" stroke-width="0.6"/>
<line x1="615.90" y1="72.14" x2="619.70" y2="72.14" stroke="#1f8a3a" stroke-width="0.75"/>
<line x1="615.90" y1="77.51" x2="619.70" y2="77.51" stroke="#1f8a3a" stroke-width="0.75"/>
<line x1="617.80" y1="76.74" x2="617.80" y2="82.11" stroke="#1f2f9a" stroke-width="0.6"/>
<line x1="615.90" y1="76.74" x2="619.70" y2="76.74" stroke="#1f2f9a" stroke-width="0.75"/>
<line x1="615.90" y1="82.11" x2="619.70" y2="82.11" stroke="#1f2f9a" stroke-width="0.75"/>
<line x1="617.80" y1="73.45" x2="617.80" y2="78.81" stroke="#e23a3a" stroke-width="0.6"/>
<line x1="615.90" y1="73.45" x2="619.70" y2="73.45" stroke="#e23a3a" stroke-width="0.75"/>
<line x1="615.90" y1="78.81" x2="619.70" y2="78.81" stroke="#e23a3a" stroke-width="0.75"/>
<line x1="617.80" y1="74.44" x2="617.80" y2="79.81" stroke="#222" stroke-width="0.6"/>
<line x1="615.90" y1="74.44" x2="619.70" y2="74.44" stroke="#222" stroke-width="0.75"/>
<line x1="615.90" y1="79.81" x2="619.70" y2="79.81" stroke="#222" stroke-width="0.75"/>
<line x1="622.02" y1="65.01" x2="622.02" y2="73.45" stroke="#1f8a3a" stroke-width="0.6"/>
<line x1="620.12" y1="65.01" x2="623.92" y2="65.01" stroke="#1f8a3a" stroke-width="0.75"/>
<line x1="620.12" y1="73.45" x2="623.92" y2="73.45" stroke="#1f8a3a" stroke-width="0.75"/>
<line x1="622.02" y1="69.61" x2="622.02" y2="78.05" stroke="#1f2f9a" stroke-width="0.6"/>
<line x1="620.12" y1="69.61" x2="623.92" y2="69.61" stroke="#1f2f9a" stroke-width="0.75"/>
<line x1="620.12" y1="78.05" x2="623.92" y2="78.05" stroke="#1f2f9a" stroke-width="0.75"/>
<line x1="622.02" y1="66.55" x2="622.02" y2="74.98" stroke="#e23a3a" stroke-width="0.6"/>
<line x1="620.12" y1="66.55" x2="623.92" y2="66.55" stroke="#e23a3a" stroke-width="0.75"/>
<line x1="620.12" y1="74.98" x2="623.92" y2="74.98" stroke="#e23a3a" stroke-width="0.75"/>
<line x1="622.02" y1="67.31" x2="622.02" y2="75.75" stroke="#222" stroke-width="0.6"/>
<line x1="620.12" y1="67.31" x2="623.92" y2="67.31" stroke="#222" stroke-width="0.75"/>
<line x1="620.12" y1="75.75" x2="623.92" y2="75.75" stroke="#222" stroke-width="0.75"/>
<line x1="626.24" y1="54.74" x2="626.24" y2="66.24" stroke="#1f8a3a" stroke-width="0.6"/>
<line x1="624.34" y1="54.74" x2="628.14" y2="54.74" stroke="#1f8a3a" stroke-width="0.75"/>
<line x1="624.34" y1="66.24" x2="628.14" y2="66.24" stroke="#1f8a3a" stroke-width="0.75"/>
<line x1="626.24" y1="55.05" x2="626.24" y2="66.55" stroke="#1f2f9a" stroke-width="0.6"/>
<line x1="624.34" y1="55.05" x2="628.14" y2="55.05" stroke="#1f2f9a" stroke-width="0.75"/>
<line x1="624.34" y1="66.55" x2="628.14" y2="66.55" stroke="#1f2f9a" stroke-width="0.75"/>
<line x1="626.24" y1="58.88" x2="626.24" y2="70.38" stroke="#e23a3a" stroke-width="0.6"/>
<line x1="624.34" y1="58.88" x2="628.14" y2="58.88" stroke="#e23a3a" stroke-width="0.75"/>
<line x1="624.34" y1="70.38" x2="628.14" y2="70.38" stroke="#e23a3a" stroke-width="0.75"/>
<line x1="626.24" y1="57.04" x2="626.24" y2="68.54" stroke="#222" stroke-width="0.6"/>
<line x1="624.34" y1="57.04" x2="628.14" y2="57.04" stroke="#222" stroke-width="0.75"/>
<line x1="624.34" y1="68.54" x2="628.14" y2="68.54" stroke="#222" stroke-width="0.75"/>
<line x1="630.46" y1="55.05" x2="630.46" y2="60.41" stroke="#1f8a3a" stroke-width="0.6"/>
<line x1="628.56" y1="55.05" x2="632.36" y2="55.05" stroke="#1f8a3a" stroke-width="0.75"/>
<line x1="628.56" y1="60.41" x2="632.36" y2="60.41" stroke="#1f8a3a" stroke-width="0.75"/>
<line x1="630.46" y1="56.58" x2="630.46" y2="61.95" stroke="#1f2f9a" stroke-width="0.6"/>
<line x1="628.56" y1="56.58" x2="632.36" y2="56.58" stroke="#1f2f9a" stroke-width="0.75"/>
<line x1="628.56" y1="61.95" x2="632.36" y2="61.95" stroke="#1f2f9a" stroke-width="0.75"/>
<line x1="630.46" y1="64.25" x2="630.46" y2="69.61" stroke="#e23a3a" stroke-width="0.6"/>
<line x1="628.56" y1="64.25" x2="632.36" y2="64.25" stroke="#e23a3a" stroke-width="0.75"/>
<line x1="628.56" y1="69.61" x2="632.36" y2="69.61" stroke="#e23a3a" stroke-width="0.75"/>
<line x1="630.46" y1="54.66" x2="630.46" y2="59.26" stroke="#222" stroke-width="0.6"/>
<line x1="628.56" y1="54.66" x2="632.36" y2="54.66" stroke="#222" stroke-width="0.75"/>
<line x1="628.56" y1="59.26" x2="632.36" y2="59.26" stroke="#222" stroke-width="0.75"/>
<line x1="634.68" y1="55.05" x2="634.68" y2="63.48" stroke="#1f8a3a" stroke-width="0.6"/>
<line x1="632.78" y1="55.05" x2="636.58" y2="55.05" stroke="#1f8a3a" stroke-width="0.75"/>
<line x1="632.78" y1="63.48" x2="636.58" y2="63.48" stroke="#1f8a3a" stroke-width="0.75"/>
<line x1="634.68" y1="57.35" x2="634.68" y2="65.78" stroke="#1f2f9a" stroke-width="0.6"/>
<line x1="632.78" y1="57.35" x2="636.58" y2="57.35" stroke="#1f2f9a" stroke-width="0.75"/>
<line x1="632.78" y1="65.78" x2="636.58" y2="65.78" stroke="#1f2f9a" stroke-width="0.75"/>
<line x1="634.68" y1="62.71" x2="634.68" y2="71.15" stroke="#e23a3a" stroke-width="0.6"/>
<line x1="632.78" y1="62.71" x2="636.58" y2="62.71" stroke="#e23a3a" stroke-width="0.75"/>
<line x1="632.78" y1="71.15" x2="636.58" y2="71.15" stroke="#e23a3a" stroke-width="0.75"/>
<line x1="634.68" y1="58.57" x2="634.68" y2="67.01" stroke="#222" stroke-width="0.6"/>
<line x1="632.78" y1="58.57" x2="636.58" y2="58.57" stroke="#222" stroke-width="0.75"/>
<line x1="632.78" y1="67.01" x2="636.58" y2="67.01" stroke="#222" stroke-width="0.75"/>
<line x1="638.90" y1="51.98" x2="638.90" y2="63.48" stroke="#1f8a3a" stroke-width="0.6"/>
<line x1="637.00" y1="51.98" x2="640.80" y2="51.98" stroke="#1f8a3a" stroke-width="0.75"/>
<line x1="637.00" y1="63.48" x2="640.80" y2="63.48" stroke="#1f8a3a" stroke-width="0.75"/>
<line x1="638.90" y1="52.36" x2="638.90" y2="63.10" stroke="#1f2f9a" stroke-width="0.6"/>
<line x1="637.00" y1="52.36" x2="640.80" y2="52.36" stroke="#1f2f9a" stroke-width="0.75"/>
<line x1="637.00" y1="63.10" x2="640.80" y2="63.10" stroke="#1f2f9a" stroke-width="0.75"/>
<line x1="638.90" y1="61.56" x2="638.90" y2="70.76" stroke="#e23a3a" stroke-width="0.6"/>
<line x1="637.00" y1="61.56" x2="640.80" y2="61.56" stroke="#e23a3a" stroke-width="0.75"/>
<line x1="637.00" y1="70.76" x2="640.80" y2="70.76" stroke="#e23a3a" stroke-width="0.75"/>
<line x1="638.90" y1="53.82" x2="638.90" y2="65.32" stroke="#222" stroke-width="0.6"/>
<line x1="637.00" y1="53.82" x2="640.80" y2="53.82" stroke="#222" stroke-width="0.75"/>
<line x1="637.00" y1="65.32" x2="640.80" y2="65.32" stroke="#222" stroke-width="0.75"/>
<polygon points="535.72,108.69 539.52,108.69 537.62,112.11" fill="#1f8a3a"/>
<rect x="535.72" y="105.83" width="3.80" height="5.00" fill="#e8141b" stroke="none" stroke-width="1"/>
<polygon points="535.72,116.71 539.52,116.71 537.62,113.29" fill="#1f2f9a"/>
<circle cx="537.62" cy="112.70" r="2.00" fill="none" stroke="#2a2a2a" stroke-width="1.05"/>
<polygon points="539.94,98.95 543.74,98.95 541.84,102.37" fill="#1f8a3a"/>
<rect x="539.94" y="108.90" width="3.80" height="5.00" fill="#e8141b" stroke="none" stroke-width="1"/>
<polygon points="539.94,116.18 543.74,116.18 541.84,112.76" fill="#1f2f9a"/>
<circle cx="541.84" cy="117.99" r="2.00" fill="none" stroke="#2a2a2a" stroke-width="1.05"/>
<polygon points="544.16,99.72 547.96,99.72 546.06,103.14" fill="#1f8a3a"/>
<rect x="544.16" y="101.23" width="3.80" height="5.00" fill="#e8141b" stroke="none" stroke-width="1"/>
<polygon points="544.16,116.18 547.96,116.18 546.06,112.76" fill="#1f2f9a"/>
<circle cx="546.06" cy="108.72" r="2.00" fill="none" stroke="#2a2a2a" stroke-width="1.05"/>
<polygon points="548.38,99.72 552.18,99.72 550.28,103.14" fill="#1f8a3a"/>
<rect x="548.38" y="106.60" width="3.80" height="5.00" fill="#e8141b" stroke="none" stroke-width="1"/>
<polygon points="548.38,109.28 552.18,109.28 550.28,105.86" fill="#1f2f9a"/>
<circle cx="550.28" cy="105.26" r="2.00" fill="none" stroke="#2a2a2a" stroke-width="1.05"/>
<polygon points="552.60,108.92 556.40,108.92 554.50,112.34" fill="#1f8a3a"/>
<rect x="552.60" y="111.97" width="3.80" height="5.00" fill="#e8141b" stroke="none" stroke-width="1"/>
<polygon points="552.60,119.32 556.40,119.32 554.50,115.90" fill="#1f2f9a"/>
<circle cx="554.50" cy="115.31" r="2.00" fill="none" stroke="#2a2a2a" stroke-width="1.05"/>
<polygon points="556.82,112.76 560.62,112.76 558.72,116.18" fill="#1f8a3a"/>
<rect x="556.82" y="105.83" width="3.80" height="5.00" fill="#e8141b" stroke="none" stroke-width="1"/>
<polygon points="556.82,115.79 560.62,115.79 558.72,112.37" fill="#1f2f9a"/>
<circle cx="558.72" cy="111.78" r="2.00" fill="none" stroke="#2a2a2a" stroke-width="1.05"/>
<polygon points="561.04,107.01 564.84,107.01 562.94,110.43" fill="#1f8a3a"/>
<rect x="561.04" y="105.07" width="3.80" height="5.00" fill="#e8141b" stroke="none" stroke-width="1"/>
<polygon points="561.04,115.03 564.84,115.03 562.94,111.61" fill="#1f2f9a"/>
<circle cx="562.94" cy="111.02" r="2.00" fill="none" stroke="#2a2a2a" stroke-width="1.05"/>
<polygon points="565.26,103.40 569.06,103.40 567.16,106.82" fill="#1f8a3a"/>
<rect x="565.26" y="104.30" width="3.80" height="5.00" fill="#e8141b" stroke="none" stroke-width="1"/>
<polygon points="565.26,111.42 569.06,111.42 567.16,108.00" fill="#1f2f9a"/>
<circle cx="567.16" cy="107.41" r="2.00" fill="none" stroke="#2a2a2a" stroke-width="1.05"/>
<polygon points="569.48,104.32 573.28,104.32 571.38,107.74" fill="#1f8a3a"/>
<rect x="569.48" y="101.23" width="3.80" height="5.00" fill="#e8141b" stroke="none" stroke-width="1"/>
<polygon points="569.48,112.34 573.28,112.34 571.38,108.92" fill="#1f2f9a"/>
<circle cx="571.38" cy="108.33" r="2.00" fill="none" stroke="#2a2a2a" stroke-width="1.05"/>
<polygon points="573.70,101.25 577.50,101.25 575.60,104.67" fill="#1f8a3a"/>
<rect x="573.70" y="102.00" width="3.80" height="5.00" fill="#e8141b" stroke="none" stroke-width="1"/>
<polygon points="573.70,109.28 577.50,109.28 575.60,105.86" fill="#1f2f9a"/>
<circle cx="575.60" cy="105.26" r="2.00" fill="none" stroke="#2a2a2a" stroke-width="1.05"/>
<polygon points="577.92,101.25 581.72,101.25 579.82,104.67" fill="#1f8a3a"/>
<rect x="577.92" y="101.23" width="3.80" height="5.00" fill="#e8141b" stroke="none" stroke-width="1"/>
<polygon points="577.92,109.28 581.72,109.28 579.82,105.86" fill="#1f2f9a"/>
<circle cx="579.82" cy="105.26" r="2.00" fill="none" stroke="#2a2a2a" stroke-width="1.05"/>
<polygon points="582.14,100.87 585.94,100.87 584.04,104.29" fill="#1f8a3a"/>
<rect x="582.14" y="103.53" width="3.80" height="5.00" fill="#e8141b" stroke="none" stroke-width="1"/>
<polygon points="582.14,108.89 585.94,108.89 584.04,105.47" fill="#1f2f9a"/>
<circle cx="584.04" cy="104.88" r="2.00" fill="none" stroke="#2a2a2a" stroke-width="1.05"/>
<polygon points="586.36,96.27 590.16,96.27 588.26,99.69" fill="#1f8a3a"/>
<rect x="586.36" y="95.86" width="3.80" height="5.00" fill="#e8141b" stroke="none" stroke-width="1"/>
<polygon points="586.36,104.29 590.16,104.29 588.26,100.87" fill="#1f2f9a"/>
<circle cx="588.26" cy="100.28" r="2.00" fill="none" stroke="#2a2a2a" stroke-width="1.05"/>
<polygon points="590.58,96.96 594.38,96.96 592.48,100.38" fill="#1f8a3a"/>
<rect x="590.58" y="95.10" width="3.80" height="5.00" fill="#e8141b" stroke="none" stroke-width="1"/>
<polygon points="590.58,104.98 594.38,104.98 592.48,101.56" fill="#1f2f9a"/>
<circle cx="592.48" cy="100.97" r="2.00" fill="none" stroke="#2a2a2a" stroke-width="1.05"/>
<polygon points="594.80,86.69 598.60,86.69 596.70,90.11" fill="#1f8a3a"/>
<rect x="594.80" y="95.10" width="3.80" height="5.00" fill="#e8141b" stroke="none" stroke-width="1"/>
<polygon points="594.80,100.38 598.60,100.38 596.70,96.96" fill="#1f2f9a"/>
<circle cx="596.70" cy="96.37" r="2.00" fill="none" stroke="#2a2a2a" stroke-width="1.05"/>
<polygon points="599.02,91.29 602.82,91.29 600.92,94.71" fill="#1f8a3a"/>
<rect x="599.02" y="88.20" width="3.80" height="5.00" fill="#e8141b" stroke="none" stroke-width="1"/>
<polygon points="599.02,98.00 602.82,98.00 600.92,94.58" fill="#1f2f9a"/>
<circle cx="600.92" cy="93.99" r="2.00" fill="none" stroke="#2a2a2a" stroke-width="1.05"/>
<polygon points="603.24,85.00 607.04,85.00 605.14,88.42" fill="#1f8a3a"/>
<rect x="603.24" y="86.66" width="3.80" height="5.00" fill="#e8141b" stroke="none" stroke-width="1"/>
<polygon points="603.24,93.02 607.04,93.02 605.14,89.60" fill="#1f2f9a"/>
<circle cx="605.14" cy="89.01" r="2.00" fill="none" stroke="#2a2a2a" stroke-width="1.05"/>
<polygon points="607.46,83.62 611.26,83.62 609.36,87.04" fill="#1f8a3a"/>
<rect x="607.46" y="84.36" width="3.80" height="5.00" fill="#e8141b" stroke="none" stroke-width="1"/>
<polygon points="607.46,91.64 611.26,91.64 609.36,88.22" fill="#1f2f9a"/>
<circle cx="609.36" cy="87.63" r="2.00" fill="none" stroke="#2a2a2a" stroke-width="1.05"/>
<polygon points="611.68,78.25 615.48,78.25 613.58,81.67" fill="#1f8a3a"/>
<rect x="611.68" y="78.23" width="3.80" height="5.00" fill="#e8141b" stroke="none" stroke-width="1"/>
<polygon points="611.68,86.27 615.48,86.27 613.58,82.85" fill="#1f2f9a"/>
<circle cx="613.58" cy="82.26" r="2.00" fill="none" stroke="#2a2a2a" stroke-width="1.05"/>
<polygon points="615.90,73.12 619.70,73.12 617.80,76.54" fill="#1f8a3a"/>
<rect x="615.90" y="73.63" width="3.80" height="5.00" fill="#e8141b" stroke="none" stroke-width="1"/>
<polygon points="615.90,81.14 619.70,81.14 617.80,77.72" fill="#1f2f9a"/>
<circle cx="617.80" cy="77.13" r="2.00" fill="none" stroke="#2a2a2a" stroke-width="1.05"/>
<polygon points="620.12,67.52 623.92,67.52 622.02,70.94" fill="#1f8a3a"/>
<rect x="620.12" y="68.26" width="3.80" height="5.00" fill="#e8141b" stroke="none" stroke-width="1"/>
<polygon points="620.12,75.54 623.92,75.54 622.02,72.12" fill="#1f2f9a"/>
<circle cx="622.02" cy="71.53" r="2.00" fill="none" stroke="#2a2a2a" stroke-width="1.05"/>
<polygon points="624.34,58.78 628.14,58.78 626.24,62.20" fill="#1f8a3a"/>
<rect x="624.34" y="62.13" width="3.80" height="5.00" fill="#e8141b" stroke="none" stroke-width="1"/>
<polygon points="624.34,62.51 628.14,62.51 626.24,59.09" fill="#1f2f9a"/>
<circle cx="626.24" cy="62.79" r="2.00" fill="none" stroke="#2a2a2a" stroke-width="1.05"/>
<polygon points="628.56,56.02 632.36,56.02 630.46,59.44" fill="#1f8a3a"/>
<rect x="628.56" y="64.43" width="3.80" height="5.00" fill="#e8141b" stroke="none" stroke-width="1"/>
<polygon points="628.56,60.97 632.36,60.97 630.46,57.55" fill="#1f2f9a"/>
<circle cx="630.46" cy="56.58" r="2.00" fill="none" stroke="#2a2a2a" stroke-width="1.05"/>
<polygon points="632.78,57.55 636.58,57.55 634.68,60.97" fill="#1f8a3a"/>
<rect x="632.78" y="64.43" width="3.80" height="5.00" fill="#e8141b" stroke="none" stroke-width="1"/>
<polygon points="632.78,63.27 636.58,63.27 634.68,59.85" fill="#1f2f9a"/>
<circle cx="634.68" cy="62.79" r="2.00" fill="none" stroke="#2a2a2a" stroke-width="1.05"/>
<polygon points="637.00,56.02 640.80,56.02 638.90,59.44" fill="#1f8a3a"/>
<rect x="637.00" y="62.90" width="3.80" height="5.00" fill="#e8141b" stroke="none" stroke-width="1"/>
<polygon points="637.00,59.44 640.80,59.44 638.90,56.02" fill="#1f2f9a"/>
<circle cx="638.90" cy="59.57" r="2.00" fill="none" stroke="#2a2a2a" stroke-width="1.05"/>
<circle cx="525.60" cy="40.80" r="2.00" fill="#fff" stroke="#111" stroke-width="1.25"/>
<text x="535.00" y="42.80" font-size="5.8" text-anchor="start" font-weight="normal" fill="#555" textLength="6.4" lengthAdjust="spacingAndGlyphs" >Ctrl</text>
<rect x="523.70" y="50.00" width="3.80" height="4.80" fill="#e8141b" stroke="none" stroke-width="1"/>
<text x="535.00" y="54.40" font-size="5.8" text-anchor="start" font-weight="normal" fill="#555" textLength="10.6" lengthAdjust="spacingAndGlyphs" >OMV</text>
<polygon points="523.60,66.20 527.60,66.20 525.60,62.60" fill="#1f2f9a"/>
<text x="535.00" y="66.40" font-size="5.8" text-anchor="start" font-weight="normal" fill="#555" textLength="8.0" lengthAdjust="spacingAndGlyphs" >Res</text>
<polygon points="523.60,74.20 527.60,74.20 525.60,77.80" fill="#1f8a3a"/>
<text x="535.00" y="78.00" font-size="5.8" text-anchor="start" font-weight="normal" fill="#555" textLength="22.6" lengthAdjust="spacingAndGlyphs" >Res+OMV</text>
<line x1="95.60" y1="231.50" x2="95.60" y2="388.70" stroke="#111" stroke-width="1.5"/>
<line x1="94.90" y1="388.00" x2="247.00" y2="388.00" stroke="#111" stroke-width="1.5"/>
<line x1="89.20" y1="388.00" x2="95.60" y2="388.00" stroke="#111" stroke-width="1.4"/>
<text x="86.70" y="392.05" font-size="11.0" text-anchor="end" font-weight="bold" fill="#222" textLength="14.9" lengthAdjust="spacingAndGlyphs" >1.7</text>
<line x1="89.20" y1="362.03" x2="95.60" y2="362.03" stroke="#111" stroke-width="1.4"/>
<text x="86.70" y="366.08" font-size="11.0" text-anchor="end" font-weight="bold" fill="#222" textLength="14.9" lengthAdjust="spacingAndGlyphs" >1.8</text>
<line x1="89.20" y1="336.06" x2="95.60" y2="336.06" stroke="#111" stroke-width="1.4"/>
<text x="86.70" y="340.11" font-size="11.0" text-anchor="end" font-weight="bold" fill="#222" textLength="14.9" lengthAdjust="spacingAndGlyphs" >1.9</text>
<line x1="89.20" y1="310.09" x2="95.60" y2="310.09" stroke="#111" stroke-width="1.4"/>
<text x="86.70" y="314.14" font-size="11.0" text-anchor="end" font-weight="bold" fill="#222" textLength="14.9" lengthAdjust="spacingAndGlyphs" >2.0</text>
<line x1="89.20" y1="284.12" x2="95.60" y2="284.12" stroke="#111" stroke-width="1.4"/>
<text x="86.70" y="288.17" font-size="11.0" text-anchor="end" font-weight="bold" fill="#222" textLength="14.9" lengthAdjust="spacingAndGlyphs" >2.1</text>
<line x1="89.20" y1="258.15" x2="95.60" y2="258.15" stroke="#111" stroke-width="1.4"/>
<text x="86.70" y="262.20" font-size="11.0" text-anchor="end" font-weight="bold" fill="#222" textLength="14.9" lengthAdjust="spacingAndGlyphs" >2.2</text>
<line x1="89.20" y1="232.18" x2="95.60" y2="232.18" stroke="#111" stroke-width="1.4"/>
<text x="86.70" y="236.23" font-size="11.0" text-anchor="end" font-weight="bold" fill="#222" textLength="14.9" lengthAdjust="spacingAndGlyphs" >2.3</text>
<line x1="130.40" y1="388.00" x2="130.40" y2="394.30" stroke="#111" stroke-width="1.4"/>
<line x1="210.80" y1="388.00" x2="210.80" y2="394.30" stroke="#111" stroke-width="1.4"/>
<text x="130.30" y="407.00" font-size="10.2" text-anchor="middle" font-weight="bold" fill="#222" textLength="18.4" lengthAdjust="spacingAndGlyphs" >Ctrl</text>
<text x="210.80" y="407.00" font-size="10.2" text-anchor="middle" font-weight="bold" fill="#222" textLength="19.4" lengthAdjust="spacingAndGlyphs" >Res</text>
<text transform="translate(63.30,309.70) rotate(-90)" x="0" y="0" font-size="11.4" text-anchor="middle" font-weight="bold" fill="#222" textLength="65.0" lengthAdjust="spacingAndGlyphs" >length(cm)</text>
<path d="M106.00,388.00 V323.85 H125.20 V388.00" fill="#fff" stroke="#111" stroke-width="1.4"/>
<line x1="115.60" y1="295.81" x2="115.60" y2="350.34" stroke="#222" stroke-width="0.9"/>
<line x1="111.00" y1="295.81" x2="120.20" y2="295.81" stroke="#222" stroke-width="0.9"/>
<line x1="111.00" y1="350.34" x2="120.20" y2="350.34" stroke="#222" stroke-width="0.9"/>
<circle cx="115.40" cy="284.12" r="1.55" fill="#111" stroke="none" stroke-width="1"/>
<circle cx="112.40" cy="310.09" r="1.55" fill="#111" stroke="none" stroke-width="1"/>
<circle cx="118.40" cy="310.09" r="1.55" fill="#111" stroke="none" stroke-width="1"/>
<circle cx="112.40" cy="336.06" r="1.55" fill="#111" stroke="none" stroke-width="1"/>
<circle cx="118.40" cy="336.06" r="1.55" fill="#111" stroke="none" stroke-width="1"/>
<circle cx="115.40" cy="362.03" r="1.55" fill="#111" stroke="none" stroke-width="1"/>
<path d="M136.40,388.00 V347.75 H155.40 V388.00" fill="#fff" stroke="#e8141b" stroke-width="1.4"/>
<line x1="145.60" y1="324.63" x2="145.60" y2="369.30" stroke="#e8141b" stroke-width="0.9"/>
<line x1="141.00" y1="324.63" x2="150.20" y2="324.63" stroke="#e8141b" stroke-width="0.9"/>
<line x1="141.00" y1="369.30" x2="150.20" y2="369.30" stroke="#e8141b" stroke-width="0.9"/>
<rect x="144.15" y="308.64" width="2.90" height="2.90" fill="#e8141b" stroke="none" stroke-width="1"/>
<rect x="144.15" y="334.61" width="2.90" height="2.90" fill="#e8141b" stroke="none" stroke-width="1"/>
<rect x="141.15" y="348.11" width="2.90" height="2.90" fill="#e8141b" stroke="none" stroke-width="1"/>
<rect x="147.15" y="348.11" width="2.90" height="2.90" fill="#e8141b" stroke="none" stroke-width="1"/>
<rect x="144.15" y="360.58" width="2.90" height="2.90" fill="#e8141b" stroke="none" stroke-width="1"/>
<rect x="144.15" y="373.56" width="2.90" height="2.90" fill="#e8141b" stroke="none" stroke-width="1"/>
<path d="M186.40,388.00 V303.60 H205.60 V388.00" fill="#fff" stroke="#111" stroke-width="1.4"/>
<line x1="196.00" y1="277.11" x2="196.00" y2="329.57" stroke="#222" stroke-width="0.9"/>
<line x1="191.40" y1="277.11" x2="200.60" y2="277.11" stroke="#222" stroke-width="0.9"/>
<line x1="191.40" y1="329.57" x2="200.60" y2="329.57" stroke="#222" stroke-width="0.9"/>
<circle cx="196.00" cy="258.15" r="1.55" fill="#111" stroke="none" stroke-width="1"/>
<circle cx="196.00" cy="297.11" r="1.55" fill="#111" stroke="none" stroke-width="1"/>
<circle cx="190.00" cy="310.09" r="1.55" fill="#111" stroke="none" stroke-width="1"/>
<circle cx="196.00" cy="310.09" r="1.55" fill="#111" stroke="none" stroke-width="1"/>
<circle cx="202.00" cy="310.09" r="1.55" fill="#111" stroke="none" stroke-width="1"/>
<circle cx="196.00" cy="336.06" r="1.55" fill="#111" stroke="none" stroke-width="1"/>
<path d="M216.60,388.00 V306.19 H235.60 V388.00" fill="#fff" stroke="#e8141b" stroke-width="1.4"/>
<line x1="226.00" y1="284.12" x2="226.00" y2="329.05" stroke="#e8141b" stroke-width="0.9"/>
<line x1="221.40" y1="284.12" x2="230.60" y2="284.12" stroke="#e8141b" stroke-width="0.9"/>
<line x1="221.40" y1="329.05" x2="230.60" y2="329.05" stroke="#e8141b" stroke-width="0.9"/>
<rect x="224.55" y="269.69" width="2.90" height="2.90" fill="#e8141b" stroke="none" stroke-width="1"/>
<rect x="224.55" y="282.67" width="2.90" height="2.90" fill="#e8141b" stroke="none" stroke-width="1"/>
<rect x="224.55" y="308.64" width="2.90" height="2.90" fill="#e8141b" stroke="none" stroke-width="1"/>
<rect x="218.55" y="321.62" width="2.90" height="2.90" fill="#e8141b" stroke="none" stroke-width="1"/>
<rect x="224.55" y="321.62" width="2.90" height="2.90" fill="#e8141b" stroke="none" stroke-width="1"/>
<rect x="230.55" y="321.62" width="2.90" height="2.90" fill="#e8141b" stroke="none" stroke-width="1"/>
<line x1="94.90" y1="388.00" x2="247.00" y2="388.00" stroke="#111" stroke-width="1.5"/>
<line x1="115.00" y1="271.30" x2="145.60" y2="271.30" stroke="#111" stroke-width="2.2"/>
<text x="129.90" y="264.00" font-size="14.0" text-anchor="middle" font-weight="normal" fill="#222" textLength="12.3" lengthAdjust="spacingAndGlyphs" >ns</text>
<line x1="197.00" y1="246.00" x2="224.00" y2="246.00" stroke="#111" stroke-width="2.0"/>
<text x="209.90" y="238.60" font-size="14.0" text-anchor="middle" font-weight="normal" fill="#222" textLength="12.3" lengthAdjust="spacingAndGlyphs" >ns</text>
<circle cx="251.60" cy="217.60" r="1.55" fill="#111" stroke="none" stroke-width="1"/>
<text x="268.80" y="221.50" font-size="11.2" text-anchor="start" font-weight="normal" fill="#222" textLength="17.4" lengthAdjust="spacingAndGlyphs" >Ctrl</text>
<rect x="250.15" y="236.75" width="2.90" height="2.90" fill="#e8141b" stroke="none" stroke-width="1"/>
<text x="268.80" y="242.60" font-size="11.2" text-anchor="start" font-weight="normal" fill="#222" textLength="24.6" lengthAdjust="spacingAndGlyphs" >OMV</text>
<line x1="364.00" y1="229.80" x2="364.00" y2="388.50" stroke="#111" stroke-width="1.5"/>
<line x1="363.30" y1="387.80" x2="517.00" y2="387.80" stroke="#111" stroke-width="1.5"/>
<line x1="357.40" y1="387.80" x2="364.00" y2="387.80" stroke="#111" stroke-width="1.4"/>
<text x="355.20" y="391.95" font-size="11.4" text-anchor="end" font-weight="normal" fill="#222" textLength="14.6" lengthAdjust="spacingAndGlyphs" >0.8</text>
<line x1="357.40" y1="356.34" x2="364.00" y2="356.34" stroke="#111" stroke-width="1.4"/>
<text x="355.20" y="360.49" font-size="11.4" text-anchor="end" font-weight="normal" fill="#222" textLength="14.6" lengthAdjust="spacingAndGlyphs" >1.0</text>
<line x1="357.40" y1="324.88" x2="364.00" y2="324.88" stroke="#111" stroke-width="1.4"/>
<text x="355.20" y="329.03" font-size="11.4" text-anchor="end" font-weight="normal" fill="#222" textLength="14.6" lengthAdjust="spacingAndGlyphs" >1.2</text>
<line x1="357.40" y1="293.42" x2="364.00" y2="293.42" stroke="#111" stroke-width="1.4"/>
<text x="355.20" y="297.57" font-size="11.4" text-anchor="end" font-weight="normal" fill="#222" textLength="14.6" lengthAdjust="spacingAndGlyphs" >1.4</text>
<line x1="357.40" y1="261.96" x2="364.00" y2="261.96" stroke="#111" stroke-width="1.4"/>
<text x="355.20" y="266.11" font-size="11.4" text-anchor="end" font-weight="normal" fill="#222" textLength="14.6" lengthAdjust="spacingAndGlyphs" >1.6</text>
<line x1="357.40" y1="230.50" x2="364.00" y2="230.50" stroke="#111" stroke-width="1.4"/>
<text x="355.20" y="234.65" font-size="11.4" text-anchor="end" font-weight="normal" fill="#222" textLength="14.6" lengthAdjust="spacingAndGlyphs" >1.8</text>
<line x1="399.00" y1="387.80" x2="399.00" y2="394.10" stroke="#111" stroke-width="1.4"/>
<line x1="480.40" y1="387.80" x2="480.40" y2="394.10" stroke="#111" stroke-width="1.4"/>
<text x="399.30" y="407.20" font-size="10.4" text-anchor="middle" font-weight="normal" fill="#222" textLength="19.2" lengthAdjust="spacingAndGlyphs" stroke="#222" stroke-width="0.45">Ctrl</text>
<text x="480.60" y="407.20" font-size="10.4" text-anchor="middle" font-weight="normal" fill="#222" textLength="19.8" lengthAdjust="spacingAndGlyphs" stroke="#222" stroke-width="0.45">Res</text>
<text transform="translate(332.00,309.40) rotate(-90)" x="0" y="0" font-size="11.6" text-anchor="middle" font-weight="bold" fill="#222" textLength="56.0" lengthAdjust="spacingAndGlyphs" >weight(g)</text>
<path d="M374.80,387.80 V280.84 H393.80 V387.80" fill="#fff" stroke="#111" stroke-width="1.4"/>
<line x1="384.20" y1="270.61" x2="384.20" y2="291.38" stroke="#222" stroke-width="0.9"/>
<line x1="379.60" y1="270.61" x2="388.80" y2="270.61" stroke="#222" stroke-width="0.9"/>
<line x1="379.60" y1="291.38" x2="388.80" y2="291.38" stroke="#222" stroke-width="0.9"/>
<circle cx="384.20" cy="266.68" r="1.55" fill="#111" stroke="none" stroke-width="1"/>
<circle cx="381.20" cy="276.90" r="1.55" fill="#111" stroke="none" stroke-width="1"/>
<circle cx="387.20" cy="276.90" r="1.55" fill="#111" stroke="none" stroke-width="1"/>
<circle cx="381.20" cy="285.56" r="1.55" fill="#111" stroke="none" stroke-width="1"/>
<circle cx="387.20" cy="285.56" r="1.55" fill="#111" stroke="none" stroke-width="1"/>
<circle cx="384.20" cy="292.63" r="1.55" fill="#111" stroke="none" stroke-width="1"/>
<path d="M405.20,387.80 V340.61 H424.40 V387.80" fill="#fff" stroke="#e8141b" stroke-width="1.4"/>
<line x1="414.60" y1="333.06" x2="414.60" y2="348.16" stroke="#e8141b" stroke-width="0.9"/>
<line x1="410.00" y1="333.06" x2="419.20" y2="333.06" stroke="#e8141b" stroke-width="0.9"/>
<line x1="410.00" y1="348.16" x2="419.20" y2="348.16" stroke="#e8141b" stroke-width="0.9"/>
<rect x="412.95" y="329.15" width="2.90" height="2.90" fill="#e8141b" stroke="none" stroke-width="1"/>
<rect x="404.55" y="336.55" width="2.90" height="2.90" fill="#e8141b" stroke="none" stroke-width="1"/>
<rect x="410.15" y="338.75" width="2.90" height="2.90" fill="#e8141b" stroke="none" stroke-width="1"/>
<rect x="416.15" y="336.55" width="2.90" height="2.90" fill="#e8141b" stroke="none" stroke-width="1"/>
<rect x="422.15" y="339.55" width="2.90" height="2.90" fill="#e8141b" stroke="none" stroke-width="1"/>
<rect x="412.95" y="352.15" width="2.90" height="2.90" fill="#e8141b" stroke="none" stroke-width="1"/>
<path d="M455.80,387.80 V260.39 H475.20 V387.80" fill="#fff" stroke="#111" stroke-width="1.4"/>
<line x1="465.40" y1="238.37" x2="465.40" y2="281.62" stroke="#222" stroke-width="0.9"/>
<line x1="460.80" y1="238.37" x2="470.00" y2="238.37" stroke="#222" stroke-width="0.9"/>
<line x1="460.80" y1="281.62" x2="470.00" y2="281.62" stroke="#222" stroke-width="0.9"/>
<circle cx="462.40" cy="246.40" r="1.55" fill="#111" stroke="none" stroke-width="1"/>
<circle cx="468.40" cy="245.00" r="1.55" fill="#111" stroke="none" stroke-width="1"/>
<circle cx="465.40" cy="250.00" r="1.55" fill="#111" stroke="none" stroke-width="1"/>
<circle cx="462.40" cy="257.40" r="1.55" fill="#111" stroke="none" stroke-width="1"/>
<circle cx="468.40" cy="259.60" r="1.55" fill="#111" stroke="none" stroke-width="1"/>
<circle cx="465.40" cy="302.40" r="1.55" fill="#111" stroke="none" stroke-width="1"/>
<path d="M486.60,387.80 V280.84 H505.60 V387.80" fill="#fff" stroke="#e8141b" stroke-width="1.4"/>
<line x1="496.00" y1="272.00" x2="496.00" y2="290.40" stroke="#e8141b" stroke-width="0.9"/>
<line x1="491.40" y1="272.00" x2="500.60" y2="272.00" stroke="#e8141b" stroke-width="0.9"/>
<line x1="491.40" y1="290.40" x2="500.60" y2="290.40" stroke="#e8141b" stroke-width="0.9"/>
<rect x="494.55" y="267.55" width="2.90" height="2.90" fill="#e8141b" stroke="none" stroke-width="1"/>
<rect x="494.55" y="277.15" width="2.90" height="2.90" fill="#e8141b" stroke="none" stroke-width="1"/>
<rect x="490.95" y="284.95" width="2.90" height="2.90" fill="#e8141b" stroke="none" stroke-width="1"/>
<rect x="498.15" y="284.95" width="2.90" height="2.90" fill="#e8141b" stroke="none" stroke-width="1"/>
<rect x="494.55" y="292.15" width="2.90" height="2.90" fill="#e8141b" stroke="none" stroke-width="1"/>
<rect x="494.55" y="280.55" width="2.90" height="2.90" fill="#e8141b" stroke="none" stroke-width="1"/>
<line x1="363.30" y1="387.80" x2="517.00" y2="387.80" stroke="#111" stroke-width="1.5"/>
<line x1="385.30" y1="251.90" x2="415.00" y2="251.90" stroke="#111" stroke-width="2.1"/>
<path d="M387.30,237.60 L387.30,244.40 M384.36,239.30 L390.24,242.70 M390.24,239.30 L384.36,242.70 " stroke="#111" stroke-width="1.45" stroke-linecap="round"/>
<circle cx="387.30" cy="241.00" r="1.50" fill="#111" stroke="none" stroke-width="1"/>
<path d="M396.10,237.60 L396.10,244.40 M393.16,239.30 L399.04,242.70 M399.04,239.30 L393.16,242.70 " stroke="#111" stroke-width="1.45" stroke-linecap="round"/>
<circle cx="396.10" cy="241.00" r="1.50" fill="#111" stroke="none" stroke-width="1"/>
<path d="M405.20,237.60 L405.20,244.40 M402.26,239.30 L408.14,242.70 M408.14,239.30 L402.26,242.70 " stroke="#111" stroke-width="1.45" stroke-linecap="round"/>
<circle cx="405.20" cy="241.00" r="1.50" fill="#111" stroke="none" stroke-width="1"/>
<path d="M414.50,237.60 L414.50,244.40 M411.56,239.30 L417.44,242.70 M417.44,239.30 L411.56,242.70 " stroke="#111" stroke-width="1.45" stroke-linecap="round"/>
<circle cx="414.50" cy="241.00" r="1.50" fill="#111" stroke="none" stroke-width="1"/>
<line x1="467.60" y1="231.00" x2="496.60" y2="231.00" stroke="#111" stroke-width="2.0"/>
<path d="M482.00,217.20 L482.00,224.00 M479.06,218.90 L484.94,222.30 M484.94,218.90 L479.06,222.30 " stroke="#111" stroke-width="1.45" stroke-linecap="round"/>
<circle cx="482.00" cy="220.60" r="1.50" fill="#111" stroke="none" stroke-width="1"/>
<circle cx="519.50" cy="217.50" r="1.55" fill="#111" stroke="none" stroke-width="1"/>
<text x="536.80" y="221.60" font-size="11.2" text-anchor="start" font-weight="normal" fill="#222" textLength="17.3" lengthAdjust="spacingAndGlyphs" >Ctrl</text>
<rect x="518.05" y="237.05" width="2.90" height="2.90" fill="#e8141b" stroke="none" stroke-width="1"/>
<text x="536.80" y="243.10" font-size="11.2" text-anchor="start" font-weight="normal" fill="#222" textLength="24.8" lengthAdjust="spacingAndGlyphs" >OMV</text>
</svg>
</body></html>
